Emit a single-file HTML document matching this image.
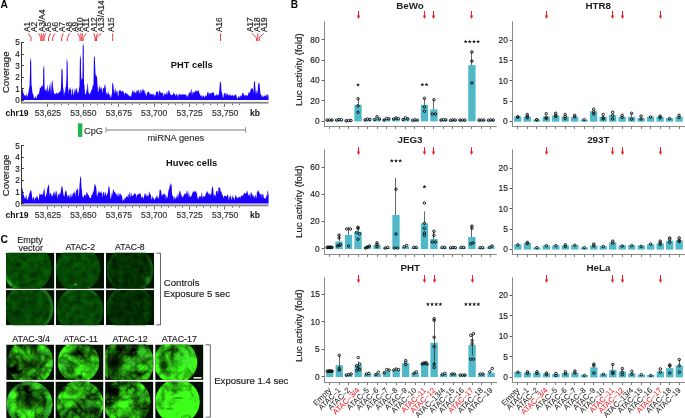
<!DOCTYPE html>
<html><head><meta charset="utf-8"><style>
html,body{margin:0;padding:0;background:#fff;width:685px;height:418px;overflow:hidden}
svg{display:block;will-change:transform}
</style></head><body>
<svg width="685" height="418" viewBox="0 0 685 418">
<defs><filter id="blur1" x="-20%" y="-20%" width="140%" height="140%"><feGaussianBlur stdDeviation="0.9"/></filter>
<radialGradient id="gd"><stop offset="0" stop-color="#000" stop-opacity="1"/><stop offset="0.55" stop-color="#000" stop-opacity="0.75"/><stop offset="1" stop-color="#000" stop-opacity="0"/></radialGradient>
<radialGradient id="gb"><stop offset="0" stop-color="#3ee03e" stop-opacity="1"/><stop offset="0.55" stop-color="#3ee03e" stop-opacity="0.75"/><stop offset="1" stop-color="#3ee03e" stop-opacity="0"/></radialGradient>
<clipPath id="ct0"><rect x="6" y="252.7" width="48.4" height="36"/></clipPath>
<clipPath id="cc0"><circle cx="27" cy="268" r="24.5"/></clipPath>
<filter id="f0" filterUnits="userSpaceOnUse" x="6" y="252.7" width="48.4" height="36" color-interpolation-filters="sRGB"><feTurbulence type="fractalNoise" baseFrequency="0.16" numOctaves="3" seed="1"/><feColorMatrix type="matrix" values="0.02 0 0 0 0.01  0.28 0 0 0 0.16  0.01 0 0 0 0.01  0 0 0 0 1"/></filter>
<clipPath id="ct1"><rect x="55.8" y="252.7" width="48.3" height="36"/></clipPath>
<clipPath id="cc1"><circle cx="78" cy="269" r="22.5"/></clipPath>
<filter id="f1" filterUnits="userSpaceOnUse" x="55.8" y="252.7" width="48.3" height="36" color-interpolation-filters="sRGB"><feTurbulence type="fractalNoise" baseFrequency="0.16" numOctaves="3" seed="2"/><feColorMatrix type="matrix" values="0.02 0 0 0 0.01  0.28 0 0 0 0.14  0.01 0 0 0 0.01  0 0 0 0 1"/></filter>
<clipPath id="ct2"><rect x="106" y="252.7" width="48.2" height="36"/></clipPath>
<clipPath id="cc2"><circle cx="130" cy="270" r="23.5"/></clipPath>
<filter id="f2" filterUnits="userSpaceOnUse" x="106" y="252.7" width="48.2" height="36" color-interpolation-filters="sRGB"><feTurbulence type="fractalNoise" baseFrequency="0.16" numOctaves="3" seed="3"/><feColorMatrix type="matrix" values="0.02 0 0 0 0  0.28 0 0 0 0.05  0.01 0 0 0 0  0 0 0 0 1"/></filter>
<clipPath id="ct3"><rect x="6" y="290.1" width="48.4" height="35.2"/></clipPath>
<clipPath id="cc3"><circle cx="29" cy="308" r="24.5"/></clipPath>
<filter id="f3" filterUnits="userSpaceOnUse" x="6" y="290.1" width="48.4" height="35.2" color-interpolation-filters="sRGB"><feTurbulence type="fractalNoise" baseFrequency="0.16" numOctaves="3" seed="4"/><feColorMatrix type="matrix" values="0.02 0 0 0 0.01  0.28 0 0 0 0.13  0.01 0 0 0 0.01  0 0 0 0 1"/></filter>
<clipPath id="ct4"><rect x="55.8" y="290.1" width="48.3" height="35.2"/></clipPath>
<clipPath id="cc4"><circle cx="80" cy="310" r="23.5"/></clipPath>
<filter id="f4" filterUnits="userSpaceOnUse" x="55.8" y="290.1" width="48.3" height="35.2" color-interpolation-filters="sRGB"><feTurbulence type="fractalNoise" baseFrequency="0.16" numOctaves="3" seed="5"/><feColorMatrix type="matrix" values="0.02 0 0 0 0.01  0.28 0 0 0 0.14  0.01 0 0 0 0.01  0 0 0 0 1"/></filter>
<clipPath id="ct5"><rect x="106" y="290.1" width="48.2" height="35.2"/></clipPath>
<clipPath id="cc5"><circle cx="130" cy="308" r="23.5"/></clipPath>
<filter id="f5" filterUnits="userSpaceOnUse" x="106" y="290.1" width="48.2" height="35.2" color-interpolation-filters="sRGB"><feTurbulence type="fractalNoise" baseFrequency="0.16" numOctaves="3" seed="6"/><feColorMatrix type="matrix" values="0.02 0 0 0 0  0.28 0 0 0 0.04  0.01 0 0 0 0  0 0 0 0 1"/></filter>
<clipPath id="ct6"><rect x="6.2" y="344.5" width="47.8" height="35.4"/></clipPath>
<clipPath id="cc6"><circle cx="30.3" cy="362" r="23"/></clipPath>
<filter id="f6" filterUnits="userSpaceOnUse" x="6.2" y="344.5" width="47.8" height="35.4" color-interpolation-filters="sRGB"><feTurbulence type="fractalNoise" baseFrequency="0.05" numOctaves="2" seed="47" result="a"/><feTurbulence type="turbulence" baseFrequency="0.11" numOctaves="3" seed="7" result="b"/><feColorMatrix in="a" type="matrix" values="0 0 0 0 0  1 0 0 0 0  0 0 0 0 0  0 0 0 0 1" result="a2"/><feColorMatrix in="b" type="matrix" values="0 0 0 0 0  1 0 0 0 0  0 0 0 0 0  0 0 0 0 1" result="b2"/><feComposite in="a2" in2="b2" operator="arithmetic" k1="0" k2="1.5" k3="1" k4="-0.57"/><feColorMatrix type="matrix" values="0 0.24 0 0 0  0 1 0 0 0  0 0.1 0 0 0  0 0 0 0 1"/></filter>
<clipPath id="ct7"><rect x="55.4" y="344.5" width="48.1" height="35.4"/></clipPath>
<clipPath id="cc7"><circle cx="78.5" cy="362" r="20.8"/></clipPath>
<filter id="f7" filterUnits="userSpaceOnUse" x="55.4" y="344.5" width="48.1" height="35.4" color-interpolation-filters="sRGB"><feTurbulence type="fractalNoise" baseFrequency="0.05" numOctaves="2" seed="48" result="a"/><feTurbulence type="turbulence" baseFrequency="0.11" numOctaves="3" seed="8" result="b"/><feColorMatrix in="a" type="matrix" values="0 0 0 0 0  1 0 0 0 0  0 0 0 0 0  0 0 0 0 1" result="a2"/><feColorMatrix in="b" type="matrix" values="0 0 0 0 0  1 0 0 0 0  0 0 0 0 0  0 0 0 0 1" result="b2"/><feComposite in="a2" in2="b2" operator="arithmetic" k1="0" k2="1.5" k3="1" k4="-0.45"/><feColorMatrix type="matrix" values="0 0.24 0 0 0  0 1 0 0 0  0 0.1 0 0 0  0 0 0 0 1"/></filter>
<clipPath id="ct8"><rect x="105.1" y="344.5" width="48.3" height="35.4"/></clipPath>
<clipPath id="cc8"><circle cx="128" cy="363" r="26"/></clipPath>
<filter id="f8" filterUnits="userSpaceOnUse" x="105.1" y="344.5" width="48.3" height="35.4" color-interpolation-filters="sRGB"><feTurbulence type="fractalNoise" baseFrequency="0.05" numOctaves="2" seed="49" result="a"/><feTurbulence type="turbulence" baseFrequency="0.11" numOctaves="3" seed="9" result="b"/><feColorMatrix in="a" type="matrix" values="0 0 0 0 0  1 0 0 0 0  0 0 0 0 0  0 0 0 0 1" result="a2"/><feColorMatrix in="b" type="matrix" values="0 0 0 0 0  1 0 0 0 0  0 0 0 0 0  0 0 0 0 1" result="b2"/><feComposite in="a2" in2="b2" operator="arithmetic" k1="0" k2="1.5" k3="1" k4="-0.62"/><feColorMatrix type="matrix" values="0 0.24 0 0 0  0 1 0 0 0  0 0.1 0 0 0  0 0 0 0 1"/></filter>
<clipPath id="ct9"><rect x="155.2" y="344.5" width="48.2" height="35.4"/></clipPath>
<clipPath id="cc9"><circle cx="175.5" cy="362" r="21.8"/></clipPath>
<filter id="f9" filterUnits="userSpaceOnUse" x="155.2" y="344.5" width="48.2" height="35.4" color-interpolation-filters="sRGB"><feTurbulence type="fractalNoise" baseFrequency="0.05" numOctaves="2" seed="50" result="a"/><feTurbulence type="turbulence" baseFrequency="0.11" numOctaves="3" seed="10" result="b"/><feColorMatrix in="a" type="matrix" values="0 0 0 0 0  1 0 0 0 0  0 0 0 0 0  0 0 0 0 1" result="a2"/><feColorMatrix in="b" type="matrix" values="0 0 0 0 0  1 0 0 0 0  0 0 0 0 0  0 0 0 0 1" result="b2"/><feComposite in="a2" in2="b2" operator="arithmetic" k1="0" k2="1.5" k3="1" k4="-0.2"/><feColorMatrix type="matrix" values="0 0.24 0 0 0  0 1 0 0 0  0 0.1 0 0 0  0 0 0 0 1"/></filter>
<clipPath id="ct10"><rect x="6.2" y="381.6" width="47.8" height="36.4"/></clipPath>
<clipPath id="cc10"><circle cx="29.5" cy="404" r="23"/></clipPath>
<filter id="f10" filterUnits="userSpaceOnUse" x="6.2" y="381.6" width="47.8" height="36.4" color-interpolation-filters="sRGB"><feTurbulence type="fractalNoise" baseFrequency="0.05" numOctaves="2" seed="51" result="a"/><feTurbulence type="turbulence" baseFrequency="0.11" numOctaves="3" seed="11" result="b"/><feColorMatrix in="a" type="matrix" values="0 0 0 0 0  1 0 0 0 0  0 0 0 0 0  0 0 0 0 1" result="a2"/><feColorMatrix in="b" type="matrix" values="0 0 0 0 0  1 0 0 0 0  0 0 0 0 0  0 0 0 0 1" result="b2"/><feComposite in="a2" in2="b2" operator="arithmetic" k1="0" k2="1.5" k3="1" k4="-0.61"/><feColorMatrix type="matrix" values="0 0.24 0 0 0  0 1 0 0 0  0 0.1 0 0 0  0 0 0 0 1"/></filter>
<clipPath id="ct11"><rect x="55.4" y="381.6" width="48.1" height="36.4"/></clipPath>
<clipPath id="cc11"><circle cx="80" cy="404" r="23.5"/></clipPath>
<filter id="f11" filterUnits="userSpaceOnUse" x="55.4" y="381.6" width="48.1" height="36.4" color-interpolation-filters="sRGB"><feTurbulence type="fractalNoise" baseFrequency="0.05" numOctaves="2" seed="52" result="a"/><feTurbulence type="turbulence" baseFrequency="0.11" numOctaves="3" seed="12" result="b"/><feColorMatrix in="a" type="matrix" values="0 0 0 0 0  1 0 0 0 0  0 0 0 0 0  0 0 0 0 1" result="a2"/><feColorMatrix in="b" type="matrix" values="0 0 0 0 0  1 0 0 0 0  0 0 0 0 0  0 0 0 0 1" result="b2"/><feComposite in="a2" in2="b2" operator="arithmetic" k1="0" k2="1.5" k3="1" k4="-0.47"/><feColorMatrix type="matrix" values="0 0.24 0 0 0  0 1 0 0 0  0 0.1 0 0 0  0 0 0 0 1"/></filter>
<clipPath id="ct12"><rect x="105.1" y="381.6" width="48.3" height="36.4"/></clipPath>
<clipPath id="cc12"><circle cx="127" cy="402" r="23.5"/></clipPath>
<filter id="f12" filterUnits="userSpaceOnUse" x="105.1" y="381.6" width="48.3" height="36.4" color-interpolation-filters="sRGB"><feTurbulence type="fractalNoise" baseFrequency="0.05" numOctaves="2" seed="53" result="a"/><feTurbulence type="turbulence" baseFrequency="0.11" numOctaves="3" seed="13" result="b"/><feColorMatrix in="a" type="matrix" values="0 0 0 0 0  1 0 0 0 0  0 0 0 0 0  0 0 0 0 1" result="a2"/><feColorMatrix in="b" type="matrix" values="0 0 0 0 0  1 0 0 0 0  0 0 0 0 0  0 0 0 0 1" result="b2"/><feComposite in="a2" in2="b2" operator="arithmetic" k1="0" k2="1.5" k3="1" k4="-0.49"/><feColorMatrix type="matrix" values="0 0.24 0 0 0  0 1 0 0 0  0 0.1 0 0 0  0 0 0 0 1"/></filter>
<clipPath id="ct13"><rect x="155.2" y="381.6" width="48.2" height="36.4"/></clipPath>
<clipPath id="cc13"><circle cx="177.5" cy="401.5" r="22.3"/></clipPath>
<filter id="f13" filterUnits="userSpaceOnUse" x="155.2" y="381.6" width="48.2" height="36.4" color-interpolation-filters="sRGB"><feTurbulence type="fractalNoise" baseFrequency="0.05" numOctaves="2" seed="54" result="a"/><feTurbulence type="turbulence" baseFrequency="0.11" numOctaves="3" seed="14" result="b"/><feColorMatrix in="a" type="matrix" values="0 0 0 0 0  1 0 0 0 0  0 0 0 0 0  0 0 0 0 1" result="a2"/><feColorMatrix in="b" type="matrix" values="0 0 0 0 0  1 0 0 0 0  0 0 0 0 0  0 0 0 0 1" result="b2"/><feComposite in="a2" in2="b2" operator="arithmetic" k1="0" k2="1.5" k3="1" k4="-0.02"/><feColorMatrix type="matrix" values="0 0.24 0 0 0  0 1 0 0 0  0 0.1 0 0 0  0 0 0 0 1"/></filter></defs>
<rect width="685" height="418" fill="#fff"/>
<text x="0.6" y="7.7" font-size="10.2" fill="#000" stroke="#000" stroke-width="0" font-family="Liberation Sans, sans-serif" font-weight="bold">A</text>
<path d="M22,100.05 L22,88.39 L22.5,88.22 L23,91.19 L23.5,93.81 L24,94.35 L24.5,95.53 L25,95.14 L25.5,96.6 L26,94.61 L26.5,93.7 L27,96.96 L27.5,96.17 L28,94.19 L28.5,92.37 L29,88.95 L29.5,86.61 L30,72.62 L30.1,60.52 L30.2,57.67 L30.5,57.79 L30.6,60.13 L31,61 L31.1,59.07 L31.5,84.44 L32,88.06 L32.5,93.58 L33,93.43 L33.5,95.21 L34,99.2 L34.5,97.26 L35,98.38 L35.5,95.61 L36,97.17 L36.5,98.55 L37,96.43 L37.5,94.3 L38,94.7 L38.5,94.3 L39,93.26 L39.5,90.71 L40,86.65 L40.5,88.1 L41,87.81 L41.5,85.23 L42,87.06 L42.5,86.26 L43,84.03 L43.3,67.97 L43.4,68.6 L43.5,67.7 L43.8,66.77 L44,64.35 L44.2,66.52 L44.3,68.45 L44.5,85.07 L45,91.21 L45.5,89.53 L46,90.13 L46.5,87.51 L47,93.16 L47.5,85.45 L47.7,84.47 L48,86.7 L48.3,90.29 L48.5,92.07 L49,90.03 L49.5,86.32 L50,83.91 L50.3,82.24 L50.5,85.77 L51,94.59 L51.5,85.64 L51.9,81.39 L52,81.97 L52.3,79.64 L52.5,80.7 L52.7,82.87 L53,87.16 L53.5,90.05 L54,93.69 L54.5,93.34 L55,94.36 L55.5,94.45 L56,92.24 L56.5,93.06 L57,94.09 L57.5,94.1 L58,91.79 L58.5,93.52 L59,92.72 L59.5,92.2 L60,91.12 L60.5,91.33 L61,87.4 L61.4,72.43 L61.5,67.23 L61.6,68.23 L62,69.15 L62.4,69.97 L62.5,68.3 L63,86.95 L63.5,89.54 L64,96.32 L64.5,90.45 L65,94.31 L65.5,86.54 L66,87.59 L66.5,75.01 L66.6,62.84 L66.7,59.73 L67,58.78 L67.1,60.02 L67.5,62.84 L67.6,59.89 L68,86.24 L68.5,94.39 L69,87.24 L69.5,89.17 L70,89.68 L70.5,89.61 L71,86.8 L71.5,95.39 L72,94.04 L72.5,88.85 L73,88.83 L73.5,95.34 L74,94.59 L74.5,87.31 L75,93.94 L75.5,88.33 L76,90.66 L76.5,88.56 L77,87.69 L77.5,93.99 L78,91.62 L78.5,93.24 L79,88.45 L79.5,85.93 L79.9,57.5 L80,58.25 L80.4,54.94 L80.5,54.98 L80.8,59.53 L80.9,57.45 L81,71.41 L81.5,80.38 L82,78.84 L82.5,78.56 L82.7,44.97 L82.8,45 L83,46.57 L83.2,42.05 L83.5,45.16 L83.6,46.78 L83.7,44.23 L84,83.77 L84.5,85.77 L85,94.19 L85.5,94.09 L86,94.05 L86.5,88.46 L87,92.87 L87.4,83.56 L87.5,82.79 L88,85.71 L88.5,93.05 L89,92.97 L89.5,94.27 L90,94.32 L90.5,92.01 L91,91.91 L91.5,89.22 L92,89.82 L92.5,85.99 L93,85.67 L93.5,84.26 L93.9,57.55 L94,55.46 L94.4,57.42 L94.5,56.78 L94.8,56.81 L95,62.36 L95.5,73.76 L96,76.36 L96.5,76.9 L96.8,74.3 L97,76.32 L97.5,84.71 L98,91.79 L98.5,91.46 L99,86.01 L99.1,84.17 L99.5,86.51 L100,89.82 L100.5,88.31 L101,86.72 L101.5,87.46 L102,90.24 L102.5,93.41 L103,88 L103.5,87.89 L104,88.67 L104.5,85.69 L105,83.99 L105.5,85.97 L106,91.22 L106.5,92.92 L107,94.75 L107.5,92.01 L108,95.15 L108.4,88.43 L108.5,93.32 L109,93.16 L109.5,95.73 L110,94.56 L110.5,96.9 L111,98.3 L111.5,95.12 L112,92.92 L112.2,84.09 L112.5,82.34 L112.6,82.22 L113,83.83 L113.5,85.61 L114,93.58 L114.5,91.39 L115,88.98 L115.4,88.77 L115.5,88.33 L116,94.62 L116.5,90.4 L117,91.49 L117.5,90.71 L118,96.67 L118.5,95.16 L119,89.44 L119.5,90.39 L120,91.19 L120.5,90.69 L121,89.18 L121.5,92.07 L122,91.87 L122.5,91.26 L123,90.62 L123.5,92 L124,92.99 L124.5,95.22 L125,92.17 L125.5,93.5 L126,92.33 L126.5,94.02 L127,93.43 L127.5,94.03 L128,94.95 L128.5,94.51 L128.7,95.61 L129,96.34 L129.5,94.91 L130,96.64 L130.5,96.04 L131,96.9 L131.5,93.97 L132,92.58 L132.5,90.84 L133,90.07 L133.5,93.87 L134,89.71 L134.5,91.91 L135,92.43 L135.5,91.92 L136,94.43 L136.5,89.71 L137,91.48 L137.5,91.36 L138,89.66 L138.5,89.21 L139,93.42 L139.5,93 L140,89.4 L140.5,90.14 L141,93.93 L141.5,89.16 L142,91.63 L142.5,90.02 L143,88.02 L143.5,90.15 L144,90.75 L144.5,90 L145,94.77 L145.5,91 L146,96.17 L146.5,95.53 L147,92.87 L147.5,92.64 L148,92.08 L148.5,91.75 L149,91.44 L149.5,92.87 L150,95.39 L150.5,93.5 L151,94.43 L151.5,93.76 L152,94.3 L152.5,93.96 L153,95.12 L153.5,92.76 L154,97.54 L154.5,93.72 L155,95.59 L155.5,95.49 L156,92.81 L156.5,91.21 L157,91.51 L157.5,92.17 L158,90.95 L158.5,96.38 L159,90.27 L159.5,90.8 L160,92.35 L160.5,91.86 L161,92.88 L161.5,93.57 L162,92.13 L162.5,92.71 L163,93.43 L163.5,97.19 L164,93.62 L164.5,93.17 L165,95.55 L165.5,93.87 L166,93.87 L166.5,91.51 L167,95.85 L167.5,91.01 L168,94.82 L168.5,90 L169,90.29 L169.5,91.4 L170,92.89 L170.5,94.94 L171,93.9 L171.5,95.49 L172,94.9 L172.5,94.53 L173,94.78 L173.5,92.87 L174,92.56 L174.5,94.74 L175,93.45 L175.5,96.09 L176,94.92 L176.5,93.22 L177,95.85 L177.5,94.13 L178,98.03 L178.5,93.62 L179,95.07 L179.5,94.63 L180,93.07 L180.5,94.82 L181,94.89 L181.5,95.11 L182,93.4 L182.5,94.85 L183,94.55 L183.5,94.34 L184,94.86 L184.5,94.5 L185,94.34 L185.5,94.23 L186,95.64 L186.5,94.63 L187,97.46 L187.5,94.2 L188,97.17 L188.5,94.3 L189,93.2 L189.5,93 L190,91.82 L190.5,93.21 L191,89.57 L191.5,88.81 L192,95.9 L192.5,91.88 L193,92.3 L193.5,91.87 L194,93.41 L194.5,92.31 L195,91.11 L195.5,90.07 L196,92.23 L196.5,90.18 L197,90.93 L197.5,90.82 L198,91.7 L198.5,89.11 L199,91.94 L199.5,93.91 L200,93.45 L200.5,95.95 L201,95.86 L201.5,94.86 L202,98.19 L202.5,96.07 L203,95.26 L203.5,95.64 L204,96.39 L204.5,96.88 L205,97.46 L205.5,94.72 L206,96.13 L206.5,96.31 L207,93.93 L207.5,92.06 L208,91.91 L208.5,92.51 L209,95.45 L209.5,92.79 L210,93.18 L210.5,93.66 L211,92.83 L211.5,93.68 L212,92.72 L212.5,92.15 L213,92.27 L213.5,92.47 L214,93.23 L214.5,96.31 L215,95.08 L215.5,95.25 L216,96.4 L216.5,94.05 L217,94.32 L217.5,95.16 L218,95.56 L218.5,94.74 L219,93.5 L219.5,88.08 L220,81.42 L220.1,82.03 L220.5,81.35 L220.9,83.98 L221,82.31 L221.5,91.72 L222,92.38 L222.5,94.97 L223,97.79 L223.5,97.02 L224,92.84 L224.5,93.64 L225,92.66 L225.5,93.4 L226,96.26 L226.5,93.77 L227,93.09 L227.5,93.83 L228,95.33 L228.5,94.87 L229,96.06 L229.5,94.81 L230,93.77 L230.5,95.93 L231,94.58 L231.5,95.79 L232,96.14 L232.5,94.36 L233,95.65 L233.5,96.4 L234,94.79 L234.5,95.93 L235,94.34 L235.5,94.71 L236,94.42 L236.5,96.24 L237,97.92 L237.5,99.05 L238,97.79 L238.5,96.35 L239,96.07 L239.5,97.52 L240,96.73 L240.5,96.28 L241,94.17 L241.5,96.76 L242,95.21 L242.5,92.36 L243,93.04 L243.5,93.42 L244,94.77 L244.5,95.96 L245,94.85 L245.5,95.2 L246,96.75 L246.5,94.78 L247,94.68 L247.5,96.09 L248,95.55 L248.5,91.84 L249,93.46 L249.5,92.76 L250,91.65 L250.5,90.67 L251,88.24 L251.5,88.93 L252,88.05 L252.5,88.58 L253,89.09 L253.5,93.42 L254,81.58 L254.1,81.42 L254.5,81.01 L254.9,81.89 L255,83.61 L255.5,89.72 L256,94.71 L256.5,91.16 L257,89.81 L257.5,94.48 L258,85.66 L258.5,82.35 L258.6,83.04 L259,83.39 L259.4,82.55 L259.5,84.25 L260,89.44 L260.5,94.15 L261,94.22 L261.5,97.46 L262,94.51 L262.5,95.68 L263,97.08 L263.5,96.63 L264,96.2 L264.5,94.89 L265,96.27 L265.5,96.14 L266,94.18 L266.5,94.54 L267,97.54 L267.5,93.66 L268,94.85 L268.5,95.54 L268.6,98.32 L268.6,100.05 Z" fill="#1a00ff"/>
<line x1="21.5" y1="42" x2="21.5" y2="102.8" stroke="#333" stroke-width="1"/>
<line x1="21.5" y1="100.5" x2="24" y2="100.5" stroke="#333" stroke-width="0.9"/>
<text x="19.9" y="103.4" font-size="8.2" fill="#222" stroke="#222" stroke-width="0.16" font-family="Liberation Sans, sans-serif" text-anchor="end">0</text>
<line x1="21.5" y1="88.5" x2="24" y2="88.5" stroke="#333" stroke-width="0.9"/>
<text x="19.9" y="91.8" font-size="8.2" fill="#222" stroke="#222" stroke-width="0.16" font-family="Liberation Sans, sans-serif" text-anchor="end">1</text>
<line x1="21.5" y1="77.5" x2="24" y2="77.5" stroke="#333" stroke-width="0.9"/>
<text x="19.9" y="80.2" font-size="8.2" fill="#222" stroke="#222" stroke-width="0.16" font-family="Liberation Sans, sans-serif" text-anchor="end">2</text>
<line x1="21.5" y1="65.5" x2="24" y2="65.5" stroke="#333" stroke-width="0.9"/>
<text x="19.9" y="68.6" font-size="8.2" fill="#222" stroke="#222" stroke-width="0.16" font-family="Liberation Sans, sans-serif" text-anchor="end">3</text>
<line x1="21.5" y1="54.5" x2="24" y2="54.5" stroke="#333" stroke-width="0.9"/>
<text x="19.9" y="57" font-size="8.2" fill="#222" stroke="#222" stroke-width="0.16" font-family="Liberation Sans, sans-serif" text-anchor="end">4</text>
<line x1="21.5" y1="42.5" x2="24" y2="42.5" stroke="#333" stroke-width="0.9"/>
<text x="19.9" y="45.4" font-size="8.2" fill="#222" stroke="#222" stroke-width="0.16" font-family="Liberation Sans, sans-serif" text-anchor="end">5</text>
<text transform="translate(9.3,72.3) rotate(-90)" font-size="9.6" fill="#222" stroke="#222" stroke-width="0.16" font-family="Liberation Sans, sans-serif" text-anchor="middle">Coverage</text>
<rect x="21" y="101.8" width="247.6" height="1.8" fill="#858585"/>
<line x1="47.5" y1="103.6" x2="47.5" y2="106.8" stroke="#555" stroke-width="0.85"/>
<line x1="54.5" y1="103.6" x2="54.5" y2="105.1" stroke="#555" stroke-width="0.85"/>
<line x1="61.5" y1="103.6" x2="61.5" y2="105.1" stroke="#555" stroke-width="0.85"/>
<line x1="68.5" y1="103.6" x2="68.5" y2="105.1" stroke="#555" stroke-width="0.85"/>
<line x1="76.5" y1="103.6" x2="76.5" y2="105.1" stroke="#555" stroke-width="0.85"/>
<line x1="83.5" y1="103.6" x2="83.5" y2="106.8" stroke="#555" stroke-width="0.85"/>
<line x1="90.5" y1="103.6" x2="90.5" y2="105.1" stroke="#555" stroke-width="0.85"/>
<line x1="97.5" y1="103.6" x2="97.5" y2="105.1" stroke="#555" stroke-width="0.85"/>
<line x1="104.5" y1="103.6" x2="104.5" y2="105.1" stroke="#555" stroke-width="0.85"/>
<line x1="111.5" y1="103.6" x2="111.5" y2="105.1" stroke="#555" stroke-width="0.85"/>
<line x1="118.5" y1="103.6" x2="118.5" y2="106.8" stroke="#555" stroke-width="0.85"/>
<line x1="125.5" y1="103.6" x2="125.5" y2="105.1" stroke="#555" stroke-width="0.85"/>
<line x1="132.5" y1="103.6" x2="132.5" y2="105.1" stroke="#555" stroke-width="0.85"/>
<line x1="139.5" y1="103.6" x2="139.5" y2="105.1" stroke="#555" stroke-width="0.85"/>
<line x1="146.5" y1="103.6" x2="146.5" y2="105.1" stroke="#555" stroke-width="0.85"/>
<line x1="154.5" y1="103.6" x2="154.5" y2="106.8" stroke="#555" stroke-width="0.85"/>
<line x1="161.5" y1="103.6" x2="161.5" y2="105.1" stroke="#555" stroke-width="0.85"/>
<line x1="168.5" y1="103.6" x2="168.5" y2="105.1" stroke="#555" stroke-width="0.85"/>
<line x1="175.5" y1="103.6" x2="175.5" y2="105.1" stroke="#555" stroke-width="0.85"/>
<line x1="182.5" y1="103.6" x2="182.5" y2="105.1" stroke="#555" stroke-width="0.85"/>
<line x1="189.5" y1="103.6" x2="189.5" y2="106.8" stroke="#555" stroke-width="0.85"/>
<line x1="196.5" y1="103.6" x2="196.5" y2="105.1" stroke="#555" stroke-width="0.85"/>
<line x1="203.5" y1="103.6" x2="203.5" y2="105.1" stroke="#555" stroke-width="0.85"/>
<line x1="210.5" y1="103.6" x2="210.5" y2="105.1" stroke="#555" stroke-width="0.85"/>
<line x1="217.5" y1="103.6" x2="217.5" y2="105.1" stroke="#555" stroke-width="0.85"/>
<line x1="224.5" y1="103.6" x2="224.5" y2="106.8" stroke="#555" stroke-width="0.85"/>
<line x1="232.5" y1="103.6" x2="232.5" y2="105.1" stroke="#555" stroke-width="0.85"/>
<line x1="239.5" y1="103.6" x2="239.5" y2="105.1" stroke="#555" stroke-width="0.85"/>
<text transform="translate(47.9,115.6) scale(1,1.1)" font-size="8.6" fill="#333" stroke="#333" stroke-width="0.16" font-family="Liberation Sans, sans-serif" text-anchor="middle">53,625</text>
<text transform="translate(83.35,115.6) scale(1,1.1)" font-size="8.6" fill="#333" stroke="#333" stroke-width="0.16" font-family="Liberation Sans, sans-serif" text-anchor="middle">53,650</text>
<text transform="translate(118.8,115.6) scale(1,1.1)" font-size="8.6" fill="#333" stroke="#333" stroke-width="0.16" font-family="Liberation Sans, sans-serif" text-anchor="middle">53,675</text>
<text transform="translate(154.25,115.6) scale(1,1.1)" font-size="8.6" fill="#333" stroke="#333" stroke-width="0.16" font-family="Liberation Sans, sans-serif" text-anchor="middle">53,700</text>
<text transform="translate(189.7,115.6) scale(1,1.1)" font-size="8.6" fill="#333" stroke="#333" stroke-width="0.16" font-family="Liberation Sans, sans-serif" text-anchor="middle">53,725</text>
<text transform="translate(225.15,115.6) scale(1,1.1)" font-size="8.6" fill="#333" stroke="#333" stroke-width="0.16" font-family="Liberation Sans, sans-serif" text-anchor="middle">53,750</text>
<text x="5.6" y="115.6" font-size="8.6" fill="#111" stroke="#111" stroke-width="0" font-family="Liberation Sans, sans-serif" font-weight="bold">chr19</text>
<text x="250" y="115.6" font-size="8.6" fill="#111" stroke="#111" stroke-width="0" font-family="Liberation Sans, sans-serif" font-weight="bold">kb</text>
<text x="170.8" y="67.5" font-size="9.3" fill="#111" stroke="#111" stroke-width="0" font-family="Liberation Sans, sans-serif" font-weight="bold">PHT cells</text>
<path d="M22,203.6 L22,188.47 L22.5,188.41 L23,191.75 L23.5,194.71 L24,195.47 L24.5,197.75 L25,197.96 L25.5,198.94 L26,194.52 L26.5,195.64 L27,200.46 L27.5,199.61 L28,197.6 L28.5,197.19 L29,194.98 L29.5,193.21 L30,191.72 L30.5,190.77 L31,189.94 L31.5,191.6 L32,195.91 L32.5,200.37 L33,196.71 L33.5,197.31 L34,197.93 L34.5,201.26 L35,198.23 L35.5,197.15 L36,198.4 L36.5,195.68 L37,197.77 L37.5,195.68 L38,198.28 L38.5,200.48 L39,197.9 L39.5,193.6 L40,193.87 L40.5,194.44 L41,195.05 L41.5,194.38 L42,192.8 L42.5,195.49 L43,194.61 L43.5,190.93 L44,190.05 L44.4,188.1 L44.5,186.59 L45,197.48 L45.5,196.15 L46,195.17 L46.5,193.94 L47,190.44 L47.5,187.8 L48,186.27 L48.4,183.44 L48.5,185.77 L48.8,184.37 L49,187.07 L49.2,187.45 L49.5,196.68 L50,192.52 L50.5,193.02 L51,194.39 L51.5,194.46 L52,196.5 L52.5,196.32 L53,194.27 L53.5,193.24 L54,191.31 L54.5,192.68 L55,196.12 L55.5,189.93 L56,195.9 L56.3,191.68 L56.5,190.44 L57,192.15 L57.5,198.93 L58,195.34 L58.5,193.75 L59,195.81 L59.5,193.62 L60,193.32 L60.5,193.48 L61,189.89 L61.5,186.24 L61.6,185.92 L62,187.07 L62.4,185.57 L62.5,187.3 L63,191.28 L63.5,194.78 L64,196.36 L64.5,196.32 L65,192.16 L65.5,191.17 L66,189.91 L66.5,192.04 L67,194.81 L67.5,196.46 L68,196.64 L68.5,195.34 L69,194.61 L69.5,198.81 L70,193.2 L70.5,197.92 L71,192.14 L71.3,194.79 L71.5,195.89 L72,197.47 L72.5,194.66 L73,193.09 L73.5,192.72 L74,194.23 L74.5,192.03 L75,190.99 L75.5,197.29 L76,190.62 L76.5,190.78 L77,189 L77.5,189.69 L78,187.36 L78.5,197.1 L79,194.66 L79.5,185.63 L79.7,183.5 L80,179.29 L80.1,177.4 L80.5,175.43 L80.9,178.62 L81,176.92 L81.2,181.87 L81.5,187.25 L82,191.32 L82.5,197.95 L83,195.36 L83.5,197.91 L84,195.75 L84.5,194.73 L85,194.78 L85.5,194.83 L86,196.93 L86.5,191.33 L87,192.92 L87.5,192.65 L88,195.11 L88.5,195.05 L89,196.06 L89.5,197.61 L90,198.01 L90.5,197.63 L91,198.02 L91.5,194.77 L92,194.83 L92.5,194.29 L93,191.38 L93.5,191.98 L94,188.3 L94.5,185.37 L94.6,184.13 L95,183.81 L95.4,185.75 L95.5,186.55 L95.7,185.35 L96,185.71 L96.5,190.2 L97,197.27 L97.5,194.58 L98,193.41 L98.5,191.79 L99,190.76 L99.5,192.97 L100,192.27 L100.5,193.28 L101,190.39 L101.5,192.4 L102,193.67 L102.5,197.78 L103,191.9 L103.5,192.71 L104,191.61 L104.5,196.67 L105,192.67 L105.5,192.03 L106,194.61 L106.5,195.99 L107,194.87 L107.5,193.49 L108,191.57 L108.5,185.62 L108.6,185.97 L109,187.6 L109.4,186.28 L109.5,187.5 L110,193.54 L110.5,199.17 L111,198.32 L111.5,194.96 L112,191.66 L112.5,195.68 L113,189.27 L113.5,189.51 L114,191.21 L114.5,192.12 L115,192.75 L115.5,192.58 L116,194.39 L116.5,193.82 L117,196.13 L117.5,192.79 L118,197.75 L118.5,191.42 L119,196.98 L119.5,193.45 L120,194.38 L120.5,192.83 L121,196.85 L121.5,194.51 L122,195.1 L122.5,200.24 L123,201.08 L123.5,198.28 L124,201.12 L124.5,199.24 L125,196.51 L125.5,198.64 L126,197.55 L126.5,196.17 L127,196.25 L127.5,195.44 L128,198.55 L128.5,193.95 L129,194.52 L129.5,191.14 L130,197.32 L130.5,196.79 L131,191.45 L131.5,193.8 L132,196.06 L132.5,196.37 L133,194.76 L133.5,195.62 L134,193.42 L134.5,193.42 L135,193.48 L135.5,194.35 L136,194.36 L136.5,197.88 L137,194.49 L137.5,195.16 L138,193.14 L138.5,194.72 L139,194.05 L139.5,193.48 L140,193.44 L140.5,193.13 L141,195.45 L141.5,198.38 L142,196.53 L142.5,196.93 L143,197.02 L143.5,199.39 L144,195.89 L144.5,194.76 L145,193.28 L145.5,192.9 L146,197.41 L146.5,194.25 L147,196.39 L147.5,195.5 L148,194.82 L148.5,197.35 L149,191.05 L149.5,192.91 L150,194.25 L150.5,194.08 L151,195.72 L151.5,199.3 L152,199.34 L152.5,196.27 L153,196.48 L153.5,199.35 L154,197.13 L154.5,200.26 L155,199.84 L155.5,197.56 L156,197.86 L156.5,196.45 L157,194.95 L157.5,198.87 L158,194.76 L158.5,199.36 L159,197.78 L159.5,190.9 L160,189.04 L160.5,190.09 L160.7,190.33 L161,190.97 L161.5,193.96 L162,196.76 L162.5,194.3 L163,195.01 L163.5,193.79 L164,193.86 L164.5,193.8 L165,195.81 L165.5,193.73 L166,199.88 L166.5,194.98 L167,197.84 L167.5,197.76 L168,193.67 L168.5,190.54 L169,189.19 L169.5,187.43 L170,184 L170.5,186.23 L170.6,183.55 L171,183.33 L171.4,184.88 L171.5,183.7 L171.7,187.82 L172,193.4 L172.5,195.84 L173,196.06 L173.5,197.18 L174,200.68 L174.5,196.47 L175,196.43 L175.5,199.26 L176,198.02 L176.5,197.25 L177,194.12 L177.5,198.33 L178,192.23 L178.5,197.86 L179,193.17 L179.5,191.37 L180,190.55 L180.5,192.13 L181,195.28 L181.5,194.68 L182,197.44 L182.5,197.01 L183,196.55 L183.5,196.53 L184,194.27 L184.5,193.57 L185,194.97 L185.5,192.64 L186,194.68 L186.5,192.28 L187,190.04 L187.5,195.25 L188,189.33 L188.5,197.7 L189,191.73 L189.5,195.57 L190,197.39 L190.5,196.24 L191,196.95 L191.5,195.25 L192,194.74 L192.5,192.21 L193,192.8 L193.5,191.55 L194,190.55 L194.5,191.44 L195,192.24 L195.5,191.41 L196,190.42 L196.5,192.95 L197,193.9 L197.5,199.38 L198,195.6 L198.5,199.91 L199,197.08 L199.5,196.26 L200,196.43 L200.5,195.99 L201,197.58 L201.5,194.11 L202,191.55 L202.5,199.05 L203,195.65 L203.5,196.62 L204,196.5 L204.5,196.76 L205,196.03 L205.5,195.06 L206,192.85 L206.5,193.32 L207,190.55 L207.5,192.06 L208,192.84 L208.5,194.48 L209,192.57 L209.5,194.07 L210,195.66 L210.5,194.08 L211,194.85 L211.5,191.5 L212,186.32 L212.1,188.03 L212.5,187.17 L212.9,185.67 L213,186.57 L213.3,190.76 L213.5,193.18 L214,196.84 L214.5,193.95 L215,194.98 L215.5,196.82 L216,191.86 L216.5,190.84 L217,191.55 L217.5,190.57 L218,194.82 L218.5,187.49 L219,186.88 L219.1,188.03 L219.5,187.21 L219.9,188.3 L220,187.13 L220.2,188.74 L220.5,191.15 L221,191.48 L221.5,191.63 L222,195.19 L222.5,194.34 L223,195.92 L223.5,198.17 L224,196.45 L224.5,195.77 L225,195.63 L225.5,196.05 L226,196.07 L226.5,196.74 L227,195.63 L227.5,194.45 L228,194.65 L228.5,198.13 L229,200.2 L229.5,195.78 L230,197.63 L230.5,194.96 L231,196.35 L231.5,199.7 L232,198.88 L232.5,194.55 L233,197.13 L233.5,197.3 L234,198.71 L234.5,200.25 L235,196.63 L235.5,194.73 L236,195.42 L236.5,197.59 L237,197.27 L237.5,198.48 L238,197.98 L238.5,196.56 L239,197.94 L239.5,196.14 L240,197.82 L240.5,197.82 L241,195.02 L241.5,195.47 L242,196.61 L242.5,195.13 L243,196.2 L243.5,193.93 L244,193.78 L244.5,192.82 L245,192.93 L245.5,193.69 L246,193.65 L246.5,192.43 L247,190.57 L247.5,191.46 L248,194.38 L248.5,194.76 L249,195.75 L249.5,193.2 L250,197.79 L250.5,194.54 L251,191.53 L251.5,193.11 L252,193.95 L252.5,194.66 L253,197.42 L253.5,195.18 L254,195.63 L254.5,198.64 L255,195.54 L255.5,194.54 L256,197.84 L256.5,197.59 L257,191.76 L257.5,191.75 L258,190.26 L258.5,190.67 L259,192.65 L259.5,192.58 L260,194.7 L260.5,194.13 L261,193.96 L261.5,193.94 L262,198.5 L262.5,193.5 L263,194.36 L263.5,194.99 L264,199.22 L264.5,198.06 L265,197.91 L265.5,198.99 L266,196.66 L266.5,194.39 L267,197.82 L267.5,190.56 L268,191.3 L268.5,194.73 L268.6,196.06 L268.6,203.6 Z" fill="#1a00ff"/>
<line x1="21.5" y1="145" x2="21.5" y2="205.5" stroke="#333" stroke-width="1"/>
<line x1="21.5" y1="203.5" x2="24" y2="203.5" stroke="#333" stroke-width="0.9"/>
<text x="19.9" y="206.6" font-size="8.2" fill="#222" stroke="#222" stroke-width="0.16" font-family="Liberation Sans, sans-serif" text-anchor="end">0</text>
<line x1="21.5" y1="192.5" x2="24" y2="192.5" stroke="#333" stroke-width="0.9"/>
<text x="19.9" y="195" font-size="8.2" fill="#222" stroke="#222" stroke-width="0.16" font-family="Liberation Sans, sans-serif" text-anchor="end">1</text>
<line x1="21.5" y1="180.5" x2="24" y2="180.5" stroke="#333" stroke-width="0.9"/>
<text x="19.9" y="183.4" font-size="8.2" fill="#222" stroke="#222" stroke-width="0.16" font-family="Liberation Sans, sans-serif" text-anchor="end">2</text>
<line x1="21.5" y1="168.5" x2="24" y2="168.5" stroke="#333" stroke-width="0.9"/>
<text x="19.9" y="171.8" font-size="8.2" fill="#222" stroke="#222" stroke-width="0.16" font-family="Liberation Sans, sans-serif" text-anchor="end">3</text>
<line x1="21.5" y1="157.5" x2="24" y2="157.5" stroke="#333" stroke-width="0.9"/>
<text x="19.9" y="160.2" font-size="8.2" fill="#222" stroke="#222" stroke-width="0.16" font-family="Liberation Sans, sans-serif" text-anchor="end">4</text>
<line x1="21.5" y1="145.5" x2="24" y2="145.5" stroke="#333" stroke-width="0.9"/>
<text x="19.9" y="148.6" font-size="8.2" fill="#222" stroke="#222" stroke-width="0.16" font-family="Liberation Sans, sans-serif" text-anchor="end">5</text>
<text transform="translate(9.3,175.5) rotate(-90)" font-size="9.6" fill="#222" stroke="#222" stroke-width="0.16" font-family="Liberation Sans, sans-serif" text-anchor="middle">Coverage</text>
<rect x="21" y="204.5" width="247.6" height="1.8" fill="#858585"/>
<line x1="47.5" y1="206.3" x2="47.5" y2="209.5" stroke="#555" stroke-width="0.85"/>
<line x1="54.5" y1="206.3" x2="54.5" y2="207.8" stroke="#555" stroke-width="0.85"/>
<line x1="61.5" y1="206.3" x2="61.5" y2="207.8" stroke="#555" stroke-width="0.85"/>
<line x1="68.5" y1="206.3" x2="68.5" y2="207.8" stroke="#555" stroke-width="0.85"/>
<line x1="76.5" y1="206.3" x2="76.5" y2="207.8" stroke="#555" stroke-width="0.85"/>
<line x1="83.5" y1="206.3" x2="83.5" y2="209.5" stroke="#555" stroke-width="0.85"/>
<line x1="90.5" y1="206.3" x2="90.5" y2="207.8" stroke="#555" stroke-width="0.85"/>
<line x1="97.5" y1="206.3" x2="97.5" y2="207.8" stroke="#555" stroke-width="0.85"/>
<line x1="104.5" y1="206.3" x2="104.5" y2="207.8" stroke="#555" stroke-width="0.85"/>
<line x1="111.5" y1="206.3" x2="111.5" y2="207.8" stroke="#555" stroke-width="0.85"/>
<line x1="118.5" y1="206.3" x2="118.5" y2="209.5" stroke="#555" stroke-width="0.85"/>
<line x1="125.5" y1="206.3" x2="125.5" y2="207.8" stroke="#555" stroke-width="0.85"/>
<line x1="132.5" y1="206.3" x2="132.5" y2="207.8" stroke="#555" stroke-width="0.85"/>
<line x1="139.5" y1="206.3" x2="139.5" y2="207.8" stroke="#555" stroke-width="0.85"/>
<line x1="146.5" y1="206.3" x2="146.5" y2="207.8" stroke="#555" stroke-width="0.85"/>
<line x1="154.5" y1="206.3" x2="154.5" y2="209.5" stroke="#555" stroke-width="0.85"/>
<line x1="161.5" y1="206.3" x2="161.5" y2="207.8" stroke="#555" stroke-width="0.85"/>
<line x1="168.5" y1="206.3" x2="168.5" y2="207.8" stroke="#555" stroke-width="0.85"/>
<line x1="175.5" y1="206.3" x2="175.5" y2="207.8" stroke="#555" stroke-width="0.85"/>
<line x1="182.5" y1="206.3" x2="182.5" y2="207.8" stroke="#555" stroke-width="0.85"/>
<line x1="189.5" y1="206.3" x2="189.5" y2="209.5" stroke="#555" stroke-width="0.85"/>
<line x1="196.5" y1="206.3" x2="196.5" y2="207.8" stroke="#555" stroke-width="0.85"/>
<line x1="203.5" y1="206.3" x2="203.5" y2="207.8" stroke="#555" stroke-width="0.85"/>
<line x1="210.5" y1="206.3" x2="210.5" y2="207.8" stroke="#555" stroke-width="0.85"/>
<line x1="217.5" y1="206.3" x2="217.5" y2="207.8" stroke="#555" stroke-width="0.85"/>
<line x1="224.5" y1="206.3" x2="224.5" y2="209.5" stroke="#555" stroke-width="0.85"/>
<line x1="232.5" y1="206.3" x2="232.5" y2="207.8" stroke="#555" stroke-width="0.85"/>
<line x1="239.5" y1="206.3" x2="239.5" y2="207.8" stroke="#555" stroke-width="0.85"/>
<text transform="translate(47.9,217.8) scale(1,1.1)" font-size="8.6" fill="#333" stroke="#333" stroke-width="0.16" font-family="Liberation Sans, sans-serif" text-anchor="middle">53,625</text>
<text transform="translate(83.35,217.8) scale(1,1.1)" font-size="8.6" fill="#333" stroke="#333" stroke-width="0.16" font-family="Liberation Sans, sans-serif" text-anchor="middle">53,650</text>
<text transform="translate(118.8,217.8) scale(1,1.1)" font-size="8.6" fill="#333" stroke="#333" stroke-width="0.16" font-family="Liberation Sans, sans-serif" text-anchor="middle">53,675</text>
<text transform="translate(154.25,217.8) scale(1,1.1)" font-size="8.6" fill="#333" stroke="#333" stroke-width="0.16" font-family="Liberation Sans, sans-serif" text-anchor="middle">53,700</text>
<text transform="translate(189.7,217.8) scale(1,1.1)" font-size="8.6" fill="#333" stroke="#333" stroke-width="0.16" font-family="Liberation Sans, sans-serif" text-anchor="middle">53,725</text>
<text transform="translate(225.15,217.8) scale(1,1.1)" font-size="8.6" fill="#333" stroke="#333" stroke-width="0.16" font-family="Liberation Sans, sans-serif" text-anchor="middle">53,750</text>
<text x="5.6" y="217.8" font-size="8.6" fill="#111" stroke="#111" stroke-width="0" font-family="Liberation Sans, sans-serif" font-weight="bold">chr19</text>
<text x="250" y="217.8" font-size="8.6" fill="#111" stroke="#111" stroke-width="0" font-family="Liberation Sans, sans-serif" font-weight="bold">kb</text>
<text x="166.1" y="166.1" font-size="9.3" fill="#111" stroke="#111" stroke-width="0" font-family="Liberation Sans, sans-serif" font-weight="bold">Huvec cells</text>
<rect x="77.9" y="123.3" width="4.4" height="13.6" fill="#1db650"/>
<text x="84" y="133.8" font-size="9.2" fill="#333" stroke="#333" stroke-width="0.16" font-family="Liberation Sans, sans-serif">CpG</text>
<line x1="106" y1="130" x2="245.6" y2="130" stroke="#7a7a7a" stroke-width="1.2"/>
<line x1="106" y1="127.2" x2="106" y2="132.8" stroke="#888" stroke-width="0.9"/>
<line x1="245.6" y1="127.2" x2="245.6" y2="132.8" stroke="#888" stroke-width="0.9"/>
<text x="175.8" y="140.7" font-size="9.3" fill="#333" stroke="#333" stroke-width="0.16" font-family="Liberation Sans, sans-serif" text-anchor="middle">miRNA genes</text>
<text transform="translate(29.9,32.1) rotate(-90)" font-size="8.3" fill="#222" stroke="#222" stroke-width="0.16" font-family="Liberation Sans, sans-serif">A1</text>
<text transform="translate(37,32.1) rotate(-90)" font-size="8.3" fill="#222" stroke="#222" stroke-width="0.16" font-family="Liberation Sans, sans-serif">A2</text>
<text transform="translate(44.5,32.1) rotate(-90)" font-size="8.3" fill="#222" stroke="#222" stroke-width="0.16" font-family="Liberation Sans, sans-serif">A3/A4</text>
<text transform="translate(51.1,32.1) rotate(-90)" font-size="8.3" fill="#222" stroke="#222" stroke-width="0.16" font-family="Liberation Sans, sans-serif">A5</text>
<text transform="translate(57.8,32.1) rotate(-90)" font-size="8.3" fill="#222" stroke="#222" stroke-width="0.16" font-family="Liberation Sans, sans-serif">A6</text>
<text transform="translate(65.4,32.1) rotate(-90)" font-size="8.3" fill="#222" stroke="#222" stroke-width="0.16" font-family="Liberation Sans, sans-serif">A7</text>
<text transform="translate(71.6,32.1) rotate(-90)" font-size="8.3" fill="#222" stroke="#222" stroke-width="0.16" font-family="Liberation Sans, sans-serif">A8</text>
<text transform="translate(77.8,32.1) rotate(-90)" font-size="8.3" fill="#222" stroke="#222" stroke-width="0.16" font-family="Liberation Sans, sans-serif">A9</text>
<text transform="translate(83.4,32.1) rotate(-90)" font-size="8.3" fill="#222" stroke="#222" stroke-width="0.16" font-family="Liberation Sans, sans-serif">A10</text>
<text transform="translate(89.2,32.1) rotate(-90)" font-size="8.3" fill="#222" stroke="#222" stroke-width="0.16" font-family="Liberation Sans, sans-serif">A11</text>
<text transform="translate(97.2,32.1) rotate(-90)" font-size="8.3" fill="#222" stroke="#222" stroke-width="0.16" font-family="Liberation Sans, sans-serif">A12</text>
<text transform="translate(104.2,32.1) rotate(-90)" font-size="8.3" fill="#222" stroke="#222" stroke-width="0.16" font-family="Liberation Sans, sans-serif">A13/A14</text>
<text transform="translate(114,32.1) rotate(-90)" font-size="8.3" fill="#222" stroke="#222" stroke-width="0.16" font-family="Liberation Sans, sans-serif">A15</text>
<text transform="translate(222.4,32.1) rotate(-90)" font-size="8.3" fill="#222" stroke="#222" stroke-width="0.16" font-family="Liberation Sans, sans-serif">A16</text>
<text transform="translate(253.1,32.1) rotate(-90)" font-size="8.3" fill="#222" stroke="#222" stroke-width="0.16" font-family="Liberation Sans, sans-serif">A17</text>
<text transform="translate(259.8,32.1) rotate(-90)" font-size="8.3" fill="#222" stroke="#222" stroke-width="0.16" font-family="Liberation Sans, sans-serif">A18</text>
<text transform="translate(266.9,32.1) rotate(-90)" font-size="8.3" fill="#222" stroke="#222" stroke-width="0.16" font-family="Liberation Sans, sans-serif">A19</text>
<path d="M28.4,33.4 Q29.7,35.5 31,37.6 L31,41" fill="none" stroke="#e8202a" stroke-width="0.9"/>
<path d="M38.6,33.4 Q39.7,35.5 40.8,37.6 L40.8,41" fill="none" stroke="#e8202a" stroke-width="0.9"/>
<path d="M41,33.4 Q41.45,35.5 41.9,37.6 L41.9,41" fill="none" stroke="#e8202a" stroke-width="0.9"/>
<path d="M43.4,33.4 Q43.2,35.5 43,37.6 L43,41" fill="none" stroke="#e8202a" stroke-width="0.9"/>
<path d="M45.7,33.4 Q44.85,35.5 44,37.6 L44,41" fill="none" stroke="#e8202a" stroke-width="0.9"/>
<path d="M50.5,33.4 Q49.5,35.5 48.5,37.6 L48.5,41" fill="none" stroke="#e8202a" stroke-width="0.9"/>
<path d="M55,33.4 Q53.85,35.5 52.7,37.6 L52.7,41" fill="none" stroke="#e8202a" stroke-width="0.9"/>
<path d="M63.2,33.4 Q62.4,35.5 61.6,37.6 L61.6,41" fill="none" stroke="#e8202a" stroke-width="0.9"/>
<path d="M69.7,33.4 Q68.5,35.5 67.3,37.6 L67.3,41" fill="none" stroke="#e8202a" stroke-width="0.9"/>
<path d="M77.8,33.4 Q78.9,35.5 80,37.6 L80,41" fill="none" stroke="#e8202a" stroke-width="0.9"/>
<path d="M80.6,33.4 Q80.9,35.5 81.2,37.6 L81.2,41" fill="none" stroke="#e8202a" stroke-width="0.9"/>
<path d="M82.5,33.4 Q82.25,35.5 82,37.6 L82,41" fill="none" stroke="#e8202a" stroke-width="0.9"/>
<path d="M86.4,33.4 Q84.75,35.5 83.1,37.6 L83.1,41" fill="none" stroke="#e8202a" stroke-width="0.9"/>
<path d="M93.9,33.4 Q94.45,35.5 95,37.6 L95,41" fill="none" stroke="#e8202a" stroke-width="0.9"/>
<path d="M97.7,33.4 Q96.75,35.5 95.8,37.6 L95.8,41" fill="none" stroke="#e8202a" stroke-width="0.9"/>
<path d="M101.4,33.4 Q99,35.5 96.6,37.6 L96.6,41" fill="none" stroke="#e8202a" stroke-width="0.9"/>
<path d="M112.7,33.4 Q112.7,35.5 112.7,37.6 L112.7,41" fill="none" stroke="#e8202a" stroke-width="0.9"/>
<path d="M220.5,33.4 Q220.5,35.5 220.5,37.6 L220.5,41" fill="none" stroke="#e8202a" stroke-width="0.9"/>
<path d="M251.8,33.4 Q254.1,35.5 256.4,37.6 L256.4,41" fill="none" stroke="#e8202a" stroke-width="0.9"/>
<path d="M257.8,33.4 Q257.8,35.5 257.8,37.6 L257.8,41" fill="none" stroke="#e8202a" stroke-width="0.9"/>
<path d="M263.8,33.4 Q261.55,35.5 259.3,37.6 L259.3,41" fill="none" stroke="#e8202a" stroke-width="0.9"/>
<text x="0.5" y="242.9" font-size="10.4" fill="#000" stroke="#000" stroke-width="0" font-family="Liberation Sans, sans-serif" font-weight="bold">C</text>
<text transform="translate(30,242.8) scale(1,1.1)" font-size="9" fill="#222" stroke="#222" stroke-width="0.16" font-family="Liberation Sans, sans-serif" text-anchor="middle">Empty</text>
<text transform="translate(30.8,250.6) scale(1,1.1)" font-size="9" fill="#222" stroke="#222" stroke-width="0.16" font-family="Liberation Sans, sans-serif" text-anchor="middle">vector</text>
<text x="80.2" y="249.8" font-size="8.7" fill="#222" stroke="#222" stroke-width="0.16" font-family="Liberation Sans, sans-serif" text-anchor="middle">ATAC-2</text>
<text x="129.9" y="249.8" font-size="8.7" fill="#222" stroke="#222" stroke-width="0.16" font-family="Liberation Sans, sans-serif" text-anchor="middle">ATAC-8</text>
<text x="31.2" y="342.1" font-size="8.9" fill="#222" stroke="#222" stroke-width="0.16" font-family="Liberation Sans, sans-serif" text-anchor="middle">ATAC-3/4</text>
<text x="80.7" y="342.1" font-size="8.9" fill="#222" stroke="#222" stroke-width="0.16" font-family="Liberation Sans, sans-serif" text-anchor="middle">ATAC-11</text>
<text x="130" y="342.1" font-size="8.9" fill="#222" stroke="#222" stroke-width="0.16" font-family="Liberation Sans, sans-serif" text-anchor="middle">ATAC-12</text>
<text x="179.3" y="342.1" font-size="8.9" fill="#222" stroke="#222" stroke-width="0.16" font-family="Liberation Sans, sans-serif" text-anchor="middle">ATAC-17</text>
<g clip-path="url(#ct0)">
<rect x="6" y="252.7" width="48.4" height="36" fill="#021502"/>
<g clip-path="url(#cc0)">
<rect x="6" y="252.7" width="48.4" height="36" filter="url(#f0)"/>
<ellipse cx="27" cy="268" rx="19" ry="16" fill="url(#gc)" opacity="0.35"/>
<ellipse cx="19" cy="265" rx="4" ry="3" fill="url(#gd)" opacity="0.5"/>
<ellipse cx="34" cy="275" rx="5" ry="4" fill="url(#gd)" opacity="0.45"/>
<ellipse cx="9" cy="284" rx="4" ry="5" fill="url(#gb)" opacity="0.6"/>
<path d="M22.95,290.95 A23.3,23.3 0 0 1 5.11,275.97" fill="none" stroke="#33b833" stroke-width="3" opacity="0.6" filter="url(#blur1)"/>
</g>
</g>
<g clip-path="url(#ct1)">
<rect x="55.8" y="252.7" width="48.3" height="36" fill="#021502"/>
<g clip-path="url(#cc1)">
<rect x="55.8" y="252.7" width="48.3" height="36" filter="url(#f1)"/>
<ellipse cx="78" cy="268" rx="17" ry="15" fill="url(#gc)" opacity="0.4"/>
<ellipse cx="75.5" cy="284.5" rx="2.5" ry="1.5" fill="url(#gb)" opacity="0.7"/>
</g>
</g>
<g clip-path="url(#ct2)">
<rect x="106" y="252.7" width="48.2" height="36" fill="#021502"/>
<g clip-path="url(#cc2)">
<rect x="106" y="252.7" width="48.2" height="36" filter="url(#f2)"/>
<ellipse cx="132" cy="270" rx="15" ry="13" fill="url(#gc)" opacity="0.3"/>
<ellipse cx="148" cy="280" rx="4" ry="5" fill="url(#gb)" opacity="0.35"/>
<path d="M147.08,255.67 A22.3,22.3 0 0 1 141.15,289.31" fill="none" stroke="#2a8a2a" stroke-width="2.5" opacity="0.5" filter="url(#blur1)"/>
<path d="M110.69,281.15 A22.3,22.3 0 0 1 115.67,252.92" fill="none" stroke="#1f6f1f" stroke-width="2" opacity="0.5" filter="url(#blur1)"/>
</g>
</g>
<g clip-path="url(#ct3)">
<rect x="6" y="290.1" width="48.4" height="35.2" fill="#021502"/>
<g clip-path="url(#cc3)">
<rect x="6" y="290.1" width="48.4" height="35.2" filter="url(#f3)"/>
<ellipse cx="30" cy="306" rx="16" ry="14" fill="url(#gc)" opacity="0.3"/>
<ellipse cx="18" cy="314" rx="6" ry="5" fill="url(#gd)" opacity="0.4"/>
<path d="M36.97,286.11 A23.3,23.3 0 0 1 43.98,325.85" fill="none" stroke="#36b036" stroke-width="3" opacity="0.6" filter="url(#blur1)"/>
<path d="M7.11,300.03 A23.3,23.3 0 0 1 40.65,287.82" fill="none" stroke="#2a8a2a" stroke-width="2" opacity="0.5" filter="url(#blur1)"/>
</g>
</g>
<g clip-path="url(#ct4)">
<rect x="55.8" y="290.1" width="48.3" height="35.2" fill="#021502"/>
<g clip-path="url(#cc4)">
<rect x="55.8" y="290.1" width="48.3" height="35.2" filter="url(#f4)"/>
<ellipse cx="80" cy="308" rx="18" ry="15" fill="url(#gc)" opacity="0.4"/>
<path d="M62.92,295.67 A22.3,22.3 0 0 1 97.08,295.67" fill="none" stroke="#2a8a2a" stroke-width="2.5" opacity="0.5" filter="url(#blur1)"/>
</g>
</g>
<g clip-path="url(#ct5)">
<rect x="106" y="290.1" width="48.2" height="35.2" fill="#021502"/>
<g clip-path="url(#cc5)">
<rect x="106" y="290.1" width="48.2" height="35.2" filter="url(#f5)"/>
<ellipse cx="130" cy="308" rx="15" ry="13" fill="url(#gc)" opacity="0.25"/>
<path d="M107.7,308 A22.3,22.3 0 0 1 149.31,296.85" fill="none" stroke="#1f6f1f" stroke-width="2" opacity="0.6" filter="url(#blur1)"/>
</g>
</g>
<g clip-path="url(#ct6)">
<rect x="6.2" y="344.5" width="47.8" height="35.4" fill="#031003"/>
<g clip-path="url(#cc6)">
<rect x="6.2" y="344.5" width="47.8" height="35.4" filter="url(#f6)"/>
<ellipse cx="30" cy="364" rx="11" ry="8" fill="url(#gd)" opacity="0.5"/>
<ellipse cx="44" cy="352" rx="6" ry="5" fill="url(#gb)" opacity="0.4"/>
<ellipse cx="50" cy="365" rx="3" ry="9" fill="url(#gb)" opacity="0.4"/>
</g>
</g>
<g clip-path="url(#ct7)">
<rect x="55.4" y="344.5" width="48.1" height="35.4" fill="#031003"/>
<g clip-path="url(#cc7)">
<rect x="55.4" y="344.5" width="48.1" height="35.4" filter="url(#f7)"/>
<ellipse cx="78" cy="352" rx="9" ry="6" fill="url(#gd)" opacity="0.55"/>
<ellipse cx="80" cy="377" rx="3.5" ry="3" fill="url(#gd)" opacity="0.6"/>
<ellipse cx="63" cy="366" rx="6" ry="10" fill="url(#gb)" opacity="0.45"/>
<ellipse cx="92" cy="372" rx="5" ry="5" fill="url(#gb)" opacity="0.35"/>
</g>
</g>
<g clip-path="url(#ct8)">
<rect x="105.1" y="344.5" width="48.3" height="35.4" fill="#031003"/>
<g clip-path="url(#cc8)">
<rect x="105.1" y="344.5" width="48.3" height="35.4" filter="url(#f8)"/>
<ellipse cx="115" cy="362" rx="10" ry="17" fill="url(#gd)" opacity="0.75"/>
<ellipse cx="143" cy="354" rx="7" ry="9" fill="url(#gb)" opacity="0.6"/>
<ellipse cx="132" cy="362" rx="7" ry="7" fill="url(#gb)" opacity="0.5"/>
</g>
</g>
<g clip-path="url(#ct9)">
<rect x="155.2" y="344.5" width="48.2" height="35.4" fill="#031003"/>
<g clip-path="url(#cc9)">
<rect x="155.2" y="344.5" width="48.2" height="35.4" filter="url(#f9)"/>
<ellipse cx="163" cy="362" rx="5" ry="13" fill="url(#gd)" opacity="0.6"/>
<ellipse cx="168" cy="374" rx="5" ry="4" fill="url(#gd)" opacity="0.45"/>
<ellipse cx="186" cy="358" rx="11" ry="12" fill="url(#gb)" opacity="0.45"/>
</g>
</g>
<g clip-path="url(#ct10)">
<rect x="6.2" y="381.6" width="47.8" height="36.4" fill="#031003"/>
<g clip-path="url(#cc10)">
<rect x="6.2" y="381.6" width="47.8" height="36.4" filter="url(#f10)"/>
<ellipse cx="30" cy="400" rx="14" ry="11" fill="url(#gd)" opacity="0.7"/>
<ellipse cx="48" cy="410" rx="5" ry="6" fill="url(#gb)" opacity="0.5"/>
<circle cx="29.5" cy="404" r="21.2" fill="none" stroke="#3ee03e" stroke-width="4" opacity="0.45" filter="url(#blur1)"/>
</g>
</g>
<g clip-path="url(#ct11)">
<rect x="55.4" y="381.6" width="48.1" height="36.4" fill="#031003"/>
<g clip-path="url(#cc11)">
<rect x="55.4" y="381.6" width="48.1" height="36.4" filter="url(#f11)"/>
<ellipse cx="72" cy="392" rx="8" ry="5" fill="url(#gd)" opacity="0.45"/>
<ellipse cx="90" cy="405" rx="9" ry="8" fill="url(#gb)" opacity="0.35"/>
</g>
</g>
<g clip-path="url(#ct12)">
<rect x="105.1" y="381.6" width="48.3" height="36.4" fill="#031003"/>
<g clip-path="url(#cc12)">
<rect x="105.1" y="381.6" width="48.3" height="36.4" filter="url(#f12)"/>
<ellipse cx="135" cy="398" rx="5" ry="6" fill="url(#gd)" opacity="0.45"/>
<ellipse cx="143" cy="395" rx="5" ry="8" fill="url(#gb)" opacity="0.5"/>
</g>
</g>
<g clip-path="url(#ct13)">
<rect x="155.2" y="381.6" width="48.2" height="36.4" fill="#031003"/>
<g clip-path="url(#cc13)">
<rect x="155.2" y="381.6" width="48.2" height="36.4" filter="url(#f13)"/>
<ellipse cx="178" cy="398" rx="7" ry="1.3" fill="url(#gd)" opacity="0.35"/>
<ellipse cx="170" cy="409" rx="4" ry="1.1" fill="url(#gd)" opacity="0.3"/>
<ellipse cx="163" cy="395" rx="3" ry="7" fill="url(#gd)" opacity="0.35"/>
</g>
</g>
<rect x="193.6" y="377.1" width="8" height="1.5" fill="#fff"/>
<path d="M156.3,253.2 H160.5 V324.8 H156.3" fill="none" stroke="#555" stroke-width="0.9"/>
<text x="163.8" y="285.8" font-size="9.6" fill="#222" stroke="#222" stroke-width="0.16" font-family="Liberation Sans, sans-serif">Controls</text>
<text x="163.8" y="296.8" font-size="9.6" fill="#222" stroke="#222" stroke-width="0.16" font-family="Liberation Sans, sans-serif">Exposure 5 sec</text>
<path d="M205.5,344.8 H210.3 V417.2 H205.5" fill="none" stroke="#555" stroke-width="0.9"/>
<text x="214.2" y="383.8" font-size="9.6" fill="#222" stroke="#222" stroke-width="0.16" font-family="Liberation Sans, sans-serif">Exposure 1.4 sec</text>
<text transform="translate(290.8,7.7) scale(0.97,1.04)" font-size="10.4" fill="#000" stroke="#000" stroke-width="0" font-family="Liberation Sans, sans-serif" font-weight="bold">B</text>
<text x="410" y="8.8" font-size="9.8" fill="#222" stroke="#222" stroke-width="0" font-family="Liberation Sans, sans-serif" font-weight="bold" text-anchor="middle">BeWo</text>
<line x1="358.5" y1="11" x2="358.5" y2="17" stroke="#ee1c24" stroke-width="1"/>
<path d="M356.8,15.4 L360.2,15.4 L358.5,18.9 Z" fill="#ee1c24"/>
<line x1="424.5" y1="11" x2="424.5" y2="17" stroke="#ee1c24" stroke-width="1"/>
<path d="M422.8,15.4 L426.2,15.4 L424.5,18.9 Z" fill="#ee1c24"/>
<line x1="433.5" y1="11" x2="433.5" y2="17" stroke="#ee1c24" stroke-width="1"/>
<path d="M431.8,15.4 L435.2,15.4 L433.5,18.9 Z" fill="#ee1c24"/>
<line x1="471.5" y1="11" x2="471.5" y2="17" stroke="#ee1c24" stroke-width="1"/>
<path d="M469.8,15.4 L473.2,15.4 L471.5,18.9 Z" fill="#ee1c24"/>
<rect x="325.9" y="120.08" width="7.3" height="1.32" fill="#4fb8c9"/>
<circle cx="327.15" cy="120.08" r="1.25" fill="none" stroke="#111" stroke-width="0.95"/>
<circle cx="329.55" cy="120.08" r="1.25" fill="none" stroke="#111" stroke-width="0.95"/>
<circle cx="331.95" cy="120.08" r="1.25" fill="none" stroke="#111" stroke-width="0.95"/>
<rect x="335.39" y="119.88" width="7.3" height="1.52" fill="#4fb8c9"/>
<circle cx="336.64" cy="120.08" r="1.25" fill="none" stroke="#111" stroke-width="0.95"/>
<circle cx="339.04" cy="119.57" r="1.25" fill="none" stroke="#111" stroke-width="0.95"/>
<circle cx="341.44" cy="119.78" r="1.25" fill="none" stroke="#111" stroke-width="0.95"/>
<rect x="344.88" y="120.59" width="7.3" height="0.81" fill="#4fb8c9"/>
<circle cx="346.13" cy="120.79" r="1.25" fill="none" stroke="#111" stroke-width="0.95"/>
<circle cx="348.53" cy="120.59" r="1.25" fill="none" stroke="#111" stroke-width="0.95"/>
<circle cx="350.93" cy="120.49" r="1.25" fill="none" stroke="#111" stroke-width="0.95"/>
<rect x="354.37" y="104.82" width="7.3" height="16.58" fill="#4fb8c9"/>
<line x1="358.5" y1="104.82" x2="358.5" y2="98.71" stroke="#333" stroke-width="0.75"/>
<circle cx="358.02" cy="112.35" r="1.25" fill="none" stroke="#111" stroke-width="0.95"/>
<circle cx="358.02" cy="105.84" r="1.25" fill="none" stroke="#111" stroke-width="0.95"/>
<circle cx="358.02" cy="98.71" r="1.25" fill="none" stroke="#111" stroke-width="0.95"/>
<rect x="363.86" y="119.57" width="7.3" height="1.83" fill="#4fb8c9"/>
<circle cx="365.11" cy="119.88" r="1.25" fill="none" stroke="#111" stroke-width="0.95"/>
<circle cx="367.51" cy="119.06" r="1.25" fill="none" stroke="#111" stroke-width="0.95"/>
<circle cx="369.91" cy="119.57" r="1.25" fill="none" stroke="#111" stroke-width="0.95"/>
<rect x="373.35" y="118.56" width="7.3" height="2.84" fill="#4fb8c9"/>
<circle cx="374.6" cy="119.57" r="1.25" fill="none" stroke="#111" stroke-width="0.95"/>
<circle cx="377" cy="116.83" r="1.25" fill="none" stroke="#111" stroke-width="0.95"/>
<circle cx="379.4" cy="119.06" r="1.25" fill="none" stroke="#111" stroke-width="0.95"/>
<rect x="382.84" y="119.06" width="7.3" height="2.33" fill="#4fb8c9"/>
<circle cx="384.09" cy="120.08" r="1.25" fill="none" stroke="#111" stroke-width="0.95"/>
<circle cx="386.49" cy="118.45" r="1.25" fill="none" stroke="#111" stroke-width="0.95"/>
<circle cx="388.89" cy="118.86" r="1.25" fill="none" stroke="#111" stroke-width="0.95"/>
<rect x="392.33" y="118.56" width="7.3" height="2.84" fill="#4fb8c9"/>
<circle cx="393.58" cy="119.06" r="1.25" fill="none" stroke="#111" stroke-width="0.95"/>
<circle cx="395.98" cy="118.05" r="1.25" fill="none" stroke="#111" stroke-width="0.95"/>
<circle cx="398.38" cy="118.56" r="1.25" fill="none" stroke="#111" stroke-width="0.95"/>
<rect x="401.82" y="118.56" width="7.3" height="2.84" fill="#4fb8c9"/>
<circle cx="403.07" cy="119.57" r="1.25" fill="none" stroke="#111" stroke-width="0.95"/>
<circle cx="405.47" cy="117.84" r="1.25" fill="none" stroke="#111" stroke-width="0.95"/>
<circle cx="407.87" cy="118.86" r="1.25" fill="none" stroke="#111" stroke-width="0.95"/>
<rect x="411.31" y="120.08" width="7.3" height="1.32" fill="#4fb8c9"/>
<circle cx="412.56" cy="120.29" r="1.25" fill="none" stroke="#111" stroke-width="0.95"/>
<circle cx="414.96" cy="119.88" r="1.25" fill="none" stroke="#111" stroke-width="0.95"/>
<circle cx="417.36" cy="120.08" r="1.25" fill="none" stroke="#111" stroke-width="0.95"/>
<rect x="420.8" y="104.82" width="7.3" height="16.58" fill="#4fb8c9"/>
<line x1="424.5" y1="104.82" x2="424.5" y2="98.31" stroke="#333" stroke-width="0.75"/>
<circle cx="424.45" cy="111.23" r="1.25" fill="none" stroke="#111" stroke-width="0.95"/>
<circle cx="424.45" cy="106.85" r="1.25" fill="none" stroke="#111" stroke-width="0.95"/>
<circle cx="424.45" cy="98.31" r="1.25" fill="none" stroke="#111" stroke-width="0.95"/>
<rect x="430.29" y="109.4" width="7.3" height="12" fill="#4fb8c9"/>
<line x1="433.5" y1="109.4" x2="433.5" y2="99.73" stroke="#333" stroke-width="0.75"/>
<circle cx="432.34" cy="113.98" r="1.25" fill="none" stroke="#111" stroke-width="0.95"/>
<circle cx="435.54" cy="113.98" r="1.25" fill="none" stroke="#111" stroke-width="0.95"/>
<circle cx="433.94" cy="99.73" r="1.25" fill="none" stroke="#111" stroke-width="0.95"/>
<rect x="439.78" y="119.88" width="7.3" height="1.52" fill="#4fb8c9"/>
<circle cx="441.03" cy="120.08" r="1.25" fill="none" stroke="#111" stroke-width="0.95"/>
<circle cx="443.43" cy="119.57" r="1.25" fill="none" stroke="#111" stroke-width="0.95"/>
<circle cx="445.83" cy="119.88" r="1.25" fill="none" stroke="#111" stroke-width="0.95"/>
<rect x="449.27" y="120.08" width="7.3" height="1.32" fill="#4fb8c9"/>
<circle cx="450.52" cy="120.29" r="1.25" fill="none" stroke="#111" stroke-width="0.95"/>
<circle cx="452.92" cy="119.88" r="1.25" fill="none" stroke="#111" stroke-width="0.95"/>
<circle cx="455.32" cy="120.08" r="1.25" fill="none" stroke="#111" stroke-width="0.95"/>
<rect x="458.76" y="120.08" width="7.3" height="1.32" fill="#4fb8c9"/>
<circle cx="460.01" cy="120.08" r="1.25" fill="none" stroke="#111" stroke-width="0.95"/>
<circle cx="462.41" cy="120.08" r="1.25" fill="none" stroke="#111" stroke-width="0.95"/>
<circle cx="464.81" cy="120.08" r="1.25" fill="none" stroke="#111" stroke-width="0.95"/>
<rect x="468.25" y="65.14" width="7.3" height="56.26" fill="#4fb8c9"/>
<line x1="471.5" y1="65.14" x2="471.5" y2="51.91" stroke="#333" stroke-width="0.75"/>
<circle cx="471.9" cy="82.94" r="1.25" fill="none" stroke="#111" stroke-width="0.95"/>
<circle cx="471.9" cy="61.07" r="1.25" fill="none" stroke="#111" stroke-width="0.95"/>
<circle cx="471.9" cy="51.91" r="1.25" fill="none" stroke="#111" stroke-width="0.95"/>
<rect x="477.74" y="120.08" width="7.3" height="1.32" fill="#4fb8c9"/>
<circle cx="478.99" cy="120.08" r="1.25" fill="none" stroke="#111" stroke-width="0.95"/>
<circle cx="481.39" cy="120.08" r="1.25" fill="none" stroke="#111" stroke-width="0.95"/>
<circle cx="483.79" cy="120.08" r="1.25" fill="none" stroke="#111" stroke-width="0.95"/>
<rect x="487.23" y="120.08" width="7.3" height="1.32" fill="#4fb8c9"/>
<circle cx="488.48" cy="120.29" r="1.25" fill="none" stroke="#111" stroke-width="0.95"/>
<circle cx="490.88" cy="119.88" r="1.25" fill="none" stroke="#111" stroke-width="0.95"/>
<circle cx="493.28" cy="120.08" r="1.25" fill="none" stroke="#111" stroke-width="0.95"/>
<line x1="324.5" y1="21.3" x2="324.5" y2="127" stroke="#8a8a8a" stroke-width="1"/>
<line x1="324.5" y1="126.5" x2="496.8" y2="126.5" stroke="#8a8a8a" stroke-width="1"/>
<line x1="321.7" y1="121.5" x2="324" y2="121.5" stroke="#444" stroke-width="0.9"/>
<text transform="translate(319.6,123.9) scale(1,1.14)" font-size="8.4" fill="#222" stroke="#222" stroke-width="0.16" font-family="Liberation Sans, sans-serif" text-anchor="end">0</text>
<line x1="321.7" y1="100.5" x2="324" y2="100.5" stroke="#444" stroke-width="0.9"/>
<text transform="translate(319.6,103.55) scale(1,1.14)" font-size="8.4" fill="#222" stroke="#222" stroke-width="0.16" font-family="Liberation Sans, sans-serif" text-anchor="end">20</text>
<line x1="321.7" y1="80.5" x2="324" y2="80.5" stroke="#444" stroke-width="0.9"/>
<text transform="translate(319.6,83.2) scale(1,1.14)" font-size="8.4" fill="#222" stroke="#222" stroke-width="0.16" font-family="Liberation Sans, sans-serif" text-anchor="end">40</text>
<line x1="321.7" y1="60.5" x2="324" y2="60.5" stroke="#444" stroke-width="0.9"/>
<text transform="translate(319.6,62.85) scale(1,1.14)" font-size="8.4" fill="#222" stroke="#222" stroke-width="0.16" font-family="Liberation Sans, sans-serif" text-anchor="end">60</text>
<line x1="321.7" y1="39.5" x2="324" y2="39.5" stroke="#444" stroke-width="0.9"/>
<text transform="translate(319.6,42.5) scale(1,1.14)" font-size="8.4" fill="#222" stroke="#222" stroke-width="0.16" font-family="Liberation Sans, sans-serif" text-anchor="end">80</text>
<line x1="329.5" y1="127" x2="329.5" y2="129" stroke="#555" stroke-width="0.8"/>
<line x1="339.5" y1="127" x2="339.5" y2="129" stroke="#555" stroke-width="0.8"/>
<line x1="348.5" y1="127" x2="348.5" y2="129" stroke="#555" stroke-width="0.8"/>
<line x1="358.5" y1="127" x2="358.5" y2="129" stroke="#555" stroke-width="0.8"/>
<line x1="367.5" y1="127" x2="367.5" y2="129" stroke="#555" stroke-width="0.8"/>
<line x1="377.5" y1="127" x2="377.5" y2="129" stroke="#555" stroke-width="0.8"/>
<line x1="386.5" y1="127" x2="386.5" y2="129" stroke="#555" stroke-width="0.8"/>
<line x1="395.5" y1="127" x2="395.5" y2="129" stroke="#555" stroke-width="0.8"/>
<line x1="405.5" y1="127" x2="405.5" y2="129" stroke="#555" stroke-width="0.8"/>
<line x1="414.5" y1="127" x2="414.5" y2="129" stroke="#555" stroke-width="0.8"/>
<line x1="424.5" y1="127" x2="424.5" y2="129" stroke="#555" stroke-width="0.8"/>
<line x1="433.5" y1="127" x2="433.5" y2="129" stroke="#555" stroke-width="0.8"/>
<line x1="443.5" y1="127" x2="443.5" y2="129" stroke="#555" stroke-width="0.8"/>
<line x1="452.5" y1="127" x2="452.5" y2="129" stroke="#555" stroke-width="0.8"/>
<line x1="462.5" y1="127" x2="462.5" y2="129" stroke="#555" stroke-width="0.8"/>
<line x1="471.5" y1="127" x2="471.5" y2="129" stroke="#555" stroke-width="0.8"/>
<line x1="481.5" y1="127" x2="481.5" y2="129" stroke="#555" stroke-width="0.8"/>
<line x1="490.5" y1="127" x2="490.5" y2="129" stroke="#555" stroke-width="0.8"/>
<text transform="translate(301.6,69.6) rotate(-90)" font-size="9.7" fill="#222" stroke="#222" stroke-width="0.16" font-family="Liberation Sans, sans-serif" text-anchor="middle">Luc activity (fold)</text>
<polygon points="358.02,82.9 358.55,84.22 359.97,84.32 358.88,85.23 359.22,86.61 358.02,85.85 356.82,86.61 357.16,85.23 356.07,84.32 357.49,84.22" fill="#1a1a1a"/>
<polygon points="422.38,82.6 422.9,83.92 424.32,84.02 423.23,84.93 423.58,86.31 422.38,85.55 421.17,86.31 421.52,84.93 420.43,84.02 421.85,83.92" fill="#1a1a1a"/>
<polygon points="426.53,82.6 427.05,83.92 428.47,84.02 427.38,84.93 427.73,86.31 426.53,85.55 425.32,86.31 425.67,84.93 424.58,84.02 426,83.92" fill="#1a1a1a"/>
<polygon points="465.67,39.6 466.2,40.92 467.62,41.02 466.53,41.93 466.88,43.31 465.67,42.55 464.47,43.31 464.82,41.93 463.73,41.02 465.15,40.92" fill="#1a1a1a"/>
<polygon points="469.82,39.6 470.35,40.92 471.77,41.02 470.68,41.93 471.03,43.31 469.82,42.55 468.62,43.31 468.97,41.93 467.88,41.02 469.3,40.92" fill="#1a1a1a"/>
<polygon points="473.97,39.6 474.5,40.92 475.92,41.02 474.83,41.93 475.18,43.31 473.97,42.55 472.77,43.31 473.12,41.93 472.03,41.02 473.45,40.92" fill="#1a1a1a"/>
<polygon points="478.12,39.6 478.65,40.92 480.07,41.02 478.98,41.93 479.33,43.31 478.12,42.55 476.92,43.31 477.27,41.93 476.18,41.02 477.6,40.92" fill="#1a1a1a"/>
<text x="410" y="143.2" font-size="9.8" fill="#222" stroke="#222" stroke-width="0" font-family="Liberation Sans, sans-serif" font-weight="bold" text-anchor="middle">JEG3</text>
<line x1="358.5" y1="147.2" x2="358.5" y2="153.2" stroke="#ee1c24" stroke-width="1"/>
<path d="M356.8,151.6 L360.2,151.6 L358.5,155.1 Z" fill="#ee1c24"/>
<line x1="424.5" y1="147.2" x2="424.5" y2="153.2" stroke="#ee1c24" stroke-width="1"/>
<path d="M422.8,151.6 L426.2,151.6 L424.5,155.1 Z" fill="#ee1c24"/>
<line x1="433.5" y1="147.2" x2="433.5" y2="153.2" stroke="#ee1c24" stroke-width="1"/>
<path d="M431.8,151.6 L435.2,151.6 L433.5,155.1 Z" fill="#ee1c24"/>
<line x1="471.5" y1="147.2" x2="471.5" y2="153.2" stroke="#ee1c24" stroke-width="1"/>
<path d="M469.8,151.6 L473.2,151.6 L471.5,155.1 Z" fill="#ee1c24"/>
<rect x="325.9" y="247.39" width="7.3" height="1.66" fill="#4fb8c9"/>
<circle cx="327.15" cy="247.39" r="1.25" fill="none" stroke="#111" stroke-width="0.95"/>
<circle cx="327.95" cy="247.39" r="1.25" fill="none" stroke="#111" stroke-width="0.95"/>
<circle cx="328.75" cy="247.39" r="1.25" fill="none" stroke="#111" stroke-width="0.95"/>
<circle cx="329.55" cy="247.39" r="1.25" fill="none" stroke="#111" stroke-width="0.95"/>
<circle cx="330.35" cy="247.39" r="1.25" fill="none" stroke="#111" stroke-width="0.95"/>
<circle cx="331.15" cy="247.39" r="1.25" fill="none" stroke="#111" stroke-width="0.95"/>
<circle cx="331.95" cy="247.39" r="1.25" fill="none" stroke="#111" stroke-width="0.95"/>
<rect x="335.39" y="241.53" width="7.3" height="7.52" fill="#4fb8c9"/>
<line x1="339.5" y1="241.53" x2="339.5" y2="235.13" stroke="#333" stroke-width="0.75"/>
<circle cx="337.44" cy="246.03" r="1.25" fill="none" stroke="#111" stroke-width="0.95"/>
<circle cx="340.44" cy="244.67" r="1.25" fill="none" stroke="#111" stroke-width="0.95"/>
<circle cx="339.04" cy="245.35" r="1.25" fill="none" stroke="#111" stroke-width="0.95"/>
<circle cx="339.04" cy="237.86" r="1.25" fill="none" stroke="#111" stroke-width="0.95"/>
<circle cx="339.04" cy="235.13" r="1.25" fill="none" stroke="#111" stroke-width="0.95"/>
<rect x="344.88" y="234.86" width="7.3" height="14.19" fill="#4fb8c9"/>
<line x1="348.5" y1="234.86" x2="348.5" y2="226.97" stroke="#333" stroke-width="0.75"/>
<circle cx="348.53" cy="246.03" r="1.25" fill="none" stroke="#111" stroke-width="0.95"/>
<circle cx="346.73" cy="229.01" r="1.25" fill="none" stroke="#111" stroke-width="0.95"/>
<circle cx="350.33" cy="229.01" r="1.25" fill="none" stroke="#111" stroke-width="0.95"/>
<rect x="354.37" y="231.73" width="7.3" height="17.32" fill="#4fb8c9"/>
<line x1="358.5" y1="231.73" x2="358.5" y2="227.24" stroke="#333" stroke-width="0.75"/>
<circle cx="358.02" cy="239.22" r="1.25" fill="none" stroke="#111" stroke-width="0.95"/>
<circle cx="359.52" cy="233.77" r="1.25" fill="none" stroke="#111" stroke-width="0.95"/>
<circle cx="356.52" cy="232.41" r="1.25" fill="none" stroke="#111" stroke-width="0.95"/>
<circle cx="358.02" cy="228.33" r="1.25" fill="none" stroke="#111" stroke-width="0.95"/>
<circle cx="358.02" cy="227.24" r="1.25" fill="none" stroke="#111" stroke-width="0.95"/>
<rect x="363.86" y="246.71" width="7.3" height="2.34" fill="#4fb8c9"/>
<circle cx="365.59" cy="248.07" r="1.25" fill="none" stroke="#111" stroke-width="0.95"/>
<circle cx="366.87" cy="247.39" r="1.25" fill="none" stroke="#111" stroke-width="0.95"/>
<circle cx="368.15" cy="246.71" r="1.25" fill="none" stroke="#111" stroke-width="0.95"/>
<circle cx="369.43" cy="246.03" r="1.25" fill="none" stroke="#111" stroke-width="0.95"/>
<rect x="373.35" y="244.67" width="7.3" height="4.38" fill="#4fb8c9"/>
<circle cx="377" cy="246.71" r="1.25" fill="none" stroke="#111" stroke-width="0.95"/>
<circle cx="377" cy="244.67" r="1.25" fill="none" stroke="#111" stroke-width="0.95"/>
<circle cx="377" cy="242.9" r="1.25" fill="none" stroke="#111" stroke-width="0.95"/>
<rect x="382.84" y="247.66" width="7.3" height="1.39" fill="#4fb8c9"/>
<circle cx="385.29" cy="248.07" r="1.25" fill="none" stroke="#111" stroke-width="0.95"/>
<circle cx="387.69" cy="247.39" r="1.25" fill="none" stroke="#111" stroke-width="0.95"/>
<rect x="392.33" y="214.98" width="7.3" height="34.07" fill="#4fb8c9"/>
<line x1="395.5" y1="214.98" x2="395.5" y2="177.95" stroke="#333" stroke-width="0.75"/>
<circle cx="394.38" cy="248.07" r="1.25" fill="none" stroke="#111" stroke-width="0.95"/>
<circle cx="397.58" cy="248.07" r="1.25" fill="none" stroke="#111" stroke-width="0.95"/>
<circle cx="395.98" cy="234.05" r="1.25" fill="none" stroke="#111" stroke-width="0.95"/>
<circle cx="395.98" cy="189.25" r="1.25" fill="none" stroke="#111" stroke-width="0.95"/>
<rect x="401.82" y="246.71" width="7.3" height="2.34" fill="#4fb8c9"/>
<circle cx="404.27" cy="246.71" r="1.25" fill="none" stroke="#111" stroke-width="0.95"/>
<circle cx="406.67" cy="245.48" r="1.25" fill="none" stroke="#111" stroke-width="0.95"/>
<rect x="411.31" y="247.39" width="7.3" height="1.66" fill="#4fb8c9"/>
<circle cx="413.76" cy="247.39" r="1.25" fill="none" stroke="#111" stroke-width="0.95"/>
<circle cx="416.16" cy="247.39" r="1.25" fill="none" stroke="#111" stroke-width="0.95"/>
<rect x="420.8" y="223.43" width="7.3" height="25.62" fill="#4fb8c9"/>
<line x1="424.5" y1="223.43" x2="424.5" y2="211.44" stroke="#333" stroke-width="0.75"/>
<circle cx="424.45" cy="235.41" r="1.25" fill="none" stroke="#111" stroke-width="0.95"/>
<circle cx="424.45" cy="233.09" r="1.25" fill="none" stroke="#111" stroke-width="0.95"/>
<circle cx="424.45" cy="228.33" r="1.25" fill="none" stroke="#111" stroke-width="0.95"/>
<circle cx="424.45" cy="223.29" r="1.25" fill="none" stroke="#111" stroke-width="0.95"/>
<circle cx="424.45" cy="203" r="1.25" fill="none" stroke="#111" stroke-width="0.95"/>
<rect x="430.29" y="238.95" width="7.3" height="10.1" fill="#4fb8c9"/>
<line x1="433.5" y1="238.95" x2="433.5" y2="231.32" stroke="#333" stroke-width="0.75"/>
<circle cx="432.34" cy="242.08" r="1.25" fill="none" stroke="#111" stroke-width="0.95"/>
<circle cx="435.54" cy="242.08" r="1.25" fill="none" stroke="#111" stroke-width="0.95"/>
<circle cx="433.94" cy="235.41" r="1.25" fill="none" stroke="#111" stroke-width="0.95"/>
<circle cx="433.94" cy="231.32" r="1.25" fill="none" stroke="#111" stroke-width="0.95"/>
<rect x="439.78" y="247.39" width="7.3" height="1.66" fill="#4fb8c9"/>
<circle cx="442.23" cy="247.39" r="1.25" fill="none" stroke="#111" stroke-width="0.95"/>
<circle cx="444.63" cy="247.39" r="1.25" fill="none" stroke="#111" stroke-width="0.95"/>
<rect x="449.27" y="247.66" width="7.3" height="1.39" fill="#4fb8c9"/>
<circle cx="450.52" cy="247.93" r="1.25" fill="none" stroke="#111" stroke-width="0.95"/>
<circle cx="452.92" cy="247.39" r="1.25" fill="none" stroke="#111" stroke-width="0.95"/>
<circle cx="455.32" cy="247.66" r="1.25" fill="none" stroke="#111" stroke-width="0.95"/>
<rect x="458.76" y="247.39" width="7.3" height="1.66" fill="#4fb8c9"/>
<circle cx="461.21" cy="247.39" r="1.25" fill="none" stroke="#111" stroke-width="0.95"/>
<circle cx="463.61" cy="247.39" r="1.25" fill="none" stroke="#111" stroke-width="0.95"/>
<rect x="468.25" y="237.04" width="7.3" height="12.01" fill="#4fb8c9"/>
<line x1="471.5" y1="237.04" x2="471.5" y2="226.15" stroke="#333" stroke-width="0.75"/>
<circle cx="470.7" cy="243.71" r="1.25" fill="none" stroke="#111" stroke-width="0.95"/>
<circle cx="473.1" cy="242.9" r="1.25" fill="none" stroke="#111" stroke-width="0.95"/>
<circle cx="471.9" cy="228.33" r="1.25" fill="none" stroke="#111" stroke-width="0.95"/>
<circle cx="471.9" cy="226.15" r="1.25" fill="none" stroke="#111" stroke-width="0.95"/>
<rect x="477.74" y="247.66" width="7.3" height="1.39" fill="#4fb8c9"/>
<circle cx="480.19" cy="247.66" r="1.25" fill="none" stroke="#111" stroke-width="0.95"/>
<circle cx="482.59" cy="247.66" r="1.25" fill="none" stroke="#111" stroke-width="0.95"/>
<rect x="487.23" y="246.71" width="7.3" height="2.34" fill="#4fb8c9"/>
<circle cx="489.68" cy="247.39" r="1.25" fill="none" stroke="#111" stroke-width="0.95"/>
<circle cx="492.08" cy="246.03" r="1.25" fill="none" stroke="#111" stroke-width="0.95"/>
<line x1="324.5" y1="149.4" x2="324.5" y2="255" stroke="#8a8a8a" stroke-width="1"/>
<line x1="324.5" y1="254.5" x2="496.8" y2="254.5" stroke="#8a8a8a" stroke-width="1"/>
<line x1="321.7" y1="248.5" x2="324" y2="248.5" stroke="#444" stroke-width="0.9"/>
<text transform="translate(319.6,251.55) scale(1,1.14)" font-size="8.4" fill="#222" stroke="#222" stroke-width="0.16" font-family="Liberation Sans, sans-serif" text-anchor="end">0</text>
<line x1="321.7" y1="221.5" x2="324" y2="221.5" stroke="#444" stroke-width="0.9"/>
<text transform="translate(319.6,224.32) scale(1,1.14)" font-size="8.4" fill="#222" stroke="#222" stroke-width="0.16" font-family="Liberation Sans, sans-serif" text-anchor="end">20</text>
<line x1="321.7" y1="194.5" x2="324" y2="194.5" stroke="#444" stroke-width="0.9"/>
<text transform="translate(319.6,197.09) scale(1,1.14)" font-size="8.4" fill="#222" stroke="#222" stroke-width="0.16" font-family="Liberation Sans, sans-serif" text-anchor="end">40</text>
<line x1="321.7" y1="167.5" x2="324" y2="167.5" stroke="#444" stroke-width="0.9"/>
<text transform="translate(319.6,169.86) scale(1,1.14)" font-size="8.4" fill="#222" stroke="#222" stroke-width="0.16" font-family="Liberation Sans, sans-serif" text-anchor="end">60</text>
<line x1="329.5" y1="255" x2="329.5" y2="257" stroke="#555" stroke-width="0.8"/>
<line x1="339.5" y1="255" x2="339.5" y2="257" stroke="#555" stroke-width="0.8"/>
<line x1="348.5" y1="255" x2="348.5" y2="257" stroke="#555" stroke-width="0.8"/>
<line x1="358.5" y1="255" x2="358.5" y2="257" stroke="#555" stroke-width="0.8"/>
<line x1="367.5" y1="255" x2="367.5" y2="257" stroke="#555" stroke-width="0.8"/>
<line x1="377.5" y1="255" x2="377.5" y2="257" stroke="#555" stroke-width="0.8"/>
<line x1="386.5" y1="255" x2="386.5" y2="257" stroke="#555" stroke-width="0.8"/>
<line x1="395.5" y1="255" x2="395.5" y2="257" stroke="#555" stroke-width="0.8"/>
<line x1="405.5" y1="255" x2="405.5" y2="257" stroke="#555" stroke-width="0.8"/>
<line x1="414.5" y1="255" x2="414.5" y2="257" stroke="#555" stroke-width="0.8"/>
<line x1="424.5" y1="255" x2="424.5" y2="257" stroke="#555" stroke-width="0.8"/>
<line x1="433.5" y1="255" x2="433.5" y2="257" stroke="#555" stroke-width="0.8"/>
<line x1="443.5" y1="255" x2="443.5" y2="257" stroke="#555" stroke-width="0.8"/>
<line x1="452.5" y1="255" x2="452.5" y2="257" stroke="#555" stroke-width="0.8"/>
<line x1="462.5" y1="255" x2="462.5" y2="257" stroke="#555" stroke-width="0.8"/>
<line x1="471.5" y1="255" x2="471.5" y2="257" stroke="#555" stroke-width="0.8"/>
<line x1="481.5" y1="255" x2="481.5" y2="257" stroke="#555" stroke-width="0.8"/>
<line x1="490.5" y1="255" x2="490.5" y2="257" stroke="#555" stroke-width="0.8"/>
<text transform="translate(301.6,201.6) rotate(-90)" font-size="9.7" fill="#222" stroke="#222" stroke-width="0.16" font-family="Liberation Sans, sans-serif" text-anchor="middle">Luc activity (fold)</text>
<polygon points="391.83,158.85 392.36,160.17 393.78,160.27 392.69,161.18 393.03,162.56 391.83,161.8 390.63,162.56 390.97,161.18 389.88,160.27 391.3,160.17" fill="#1a1a1a"/>
<polygon points="395.98,158.85 396.51,160.17 397.93,160.27 396.84,161.18 397.18,162.56 395.98,161.8 394.78,162.56 395.12,161.18 394.03,160.27 395.45,160.17" fill="#1a1a1a"/>
<polygon points="400.13,158.85 400.66,160.17 402.08,160.27 400.99,161.18 401.33,162.56 400.13,161.8 398.93,162.56 399.27,161.18 398.18,160.27 399.6,160.17" fill="#1a1a1a"/>
<polygon points="424.45,184.8 424.98,186.12 426.4,186.22 425.31,187.13 425.65,188.51 424.45,187.75 423.25,188.51 423.59,187.13 422.5,186.22 423.92,186.12" fill="#1a1a1a"/>
<text x="410.2" y="270.6" font-size="9.8" fill="#222" stroke="#222" stroke-width="0" font-family="Liberation Sans, sans-serif" font-weight="bold" text-anchor="middle">PHT</text>
<line x1="358.5" y1="275.1" x2="358.5" y2="281.1" stroke="#ee1c24" stroke-width="1"/>
<path d="M356.8,279.5 L360.2,279.5 L358.5,283 Z" fill="#ee1c24"/>
<line x1="424.5" y1="275.1" x2="424.5" y2="281.1" stroke="#ee1c24" stroke-width="1"/>
<path d="M422.8,279.5 L426.2,279.5 L424.5,283 Z" fill="#ee1c24"/>
<line x1="434.5" y1="275.1" x2="434.5" y2="281.1" stroke="#ee1c24" stroke-width="1"/>
<path d="M432.8,279.5 L436.2,279.5 L434.5,283 Z" fill="#ee1c24"/>
<line x1="472.5" y1="275.1" x2="472.5" y2="281.1" stroke="#ee1c24" stroke-width="1"/>
<path d="M470.8,279.5 L474.2,279.5 L472.5,283 Z" fill="#ee1c24"/>
<rect x="326.1" y="371.23" width="7.3" height="5.77" fill="#4fb8c9"/>
<circle cx="327.35" cy="371.23" r="1.25" fill="none" stroke="#111" stroke-width="0.95"/>
<circle cx="328.15" cy="371.23" r="1.25" fill="none" stroke="#111" stroke-width="0.95"/>
<circle cx="328.95" cy="371.23" r="1.25" fill="none" stroke="#111" stroke-width="0.95"/>
<circle cx="329.75" cy="371.23" r="1.25" fill="none" stroke="#111" stroke-width="0.95"/>
<circle cx="330.55" cy="371.23" r="1.25" fill="none" stroke="#111" stroke-width="0.95"/>
<circle cx="331.35" cy="371.23" r="1.25" fill="none" stroke="#111" stroke-width="0.95"/>
<circle cx="332.15" cy="371.23" r="1.25" fill="none" stroke="#111" stroke-width="0.95"/>
<rect x="335.59" y="365.2" width="7.3" height="11.8" fill="#4fb8c9"/>
<line x1="339.5" y1="371.23" x2="339.5" y2="355.35" stroke="#333" stroke-width="0.75"/>
<circle cx="339.24" cy="370.13" r="1.25" fill="none" stroke="#111" stroke-width="0.95"/>
<circle cx="339.24" cy="368.49" r="1.25" fill="none" stroke="#111" stroke-width="0.95"/>
<circle cx="339.24" cy="355.35" r="1.25" fill="none" stroke="#111" stroke-width="0.95"/>
<rect x="345.08" y="374.51" width="7.3" height="2.49" fill="#4fb8c9"/>
<circle cx="346.33" cy="375.06" r="1.25" fill="none" stroke="#111" stroke-width="0.95"/>
<circle cx="348.73" cy="374.51" r="1.25" fill="none" stroke="#111" stroke-width="0.95"/>
<circle cx="351.13" cy="373.96" r="1.25" fill="none" stroke="#111" stroke-width="0.95"/>
<rect x="354.57" y="365.2" width="7.3" height="11.8" fill="#4fb8c9"/>
<line x1="358.5" y1="369.04" x2="358.5" y2="361.37" stroke="#333" stroke-width="0.75"/>
<circle cx="356.72" cy="370.68" r="1.25" fill="none" stroke="#111" stroke-width="0.95"/>
<circle cx="359.72" cy="369.58" r="1.25" fill="none" stroke="#111" stroke-width="0.95"/>
<circle cx="358.22" cy="368.49" r="1.25" fill="none" stroke="#111" stroke-width="0.95"/>
<circle cx="356.72" cy="365.75" r="1.25" fill="none" stroke="#111" stroke-width="0.95"/>
<circle cx="359.72" cy="364.11" r="1.25" fill="none" stroke="#111" stroke-width="0.95"/>
<circle cx="358.22" cy="357.54" r="1.25" fill="none" stroke="#111" stroke-width="0.95"/>
<rect x="364.06" y="373.96" width="7.3" height="3.04" fill="#4fb8c9"/>
<circle cx="366.51" cy="373.96" r="1.25" fill="none" stroke="#111" stroke-width="0.95"/>
<circle cx="368.91" cy="373.42" r="1.25" fill="none" stroke="#111" stroke-width="0.95"/>
<rect x="373.55" y="373.96" width="7.3" height="3.04" fill="#4fb8c9"/>
<circle cx="376" cy="374.51" r="1.25" fill="none" stroke="#111" stroke-width="0.95"/>
<circle cx="378.4" cy="372.32" r="1.25" fill="none" stroke="#111" stroke-width="0.95"/>
<rect x="383.04" y="371.23" width="7.3" height="5.77" fill="#4fb8c9"/>
<circle cx="384.29" cy="372.87" r="1.25" fill="none" stroke="#111" stroke-width="0.95"/>
<circle cx="386.69" cy="369.58" r="1.25" fill="none" stroke="#111" stroke-width="0.95"/>
<circle cx="389.09" cy="370.13" r="1.25" fill="none" stroke="#111" stroke-width="0.95"/>
<rect x="392.53" y="370.13" width="7.3" height="6.87" fill="#4fb8c9"/>
<circle cx="393.78" cy="370.13" r="1.25" fill="none" stroke="#111" stroke-width="0.95"/>
<circle cx="396.18" cy="369.04" r="1.25" fill="none" stroke="#111" stroke-width="0.95"/>
<circle cx="398.58" cy="369.58" r="1.25" fill="none" stroke="#111" stroke-width="0.95"/>
<rect x="402.02" y="363.29" width="7.3" height="13.71" fill="#4fb8c9"/>
<circle cx="405.67" cy="364.66" r="1.25" fill="none" stroke="#111" stroke-width="0.95"/>
<circle cx="405.67" cy="362.47" r="1.25" fill="none" stroke="#111" stroke-width="0.95"/>
<circle cx="405.67" cy="360.55" r="1.25" fill="none" stroke="#111" stroke-width="0.95"/>
<rect x="411.51" y="372.87" width="7.3" height="4.13" fill="#4fb8c9"/>
<circle cx="413.96" cy="373.42" r="1.25" fill="none" stroke="#111" stroke-width="0.95"/>
<circle cx="416.36" cy="371.77" r="1.25" fill="none" stroke="#111" stroke-width="0.95"/>
<rect x="421" y="362.74" width="7.3" height="14.26" fill="#4fb8c9"/>
<circle cx="422.25" cy="364.11" r="1.25" fill="none" stroke="#111" stroke-width="0.95"/>
<circle cx="423.45" cy="363.01" r="1.25" fill="none" stroke="#111" stroke-width="0.95"/>
<circle cx="424.65" cy="363.56" r="1.25" fill="none" stroke="#111" stroke-width="0.95"/>
<circle cx="425.85" cy="362.47" r="1.25" fill="none" stroke="#111" stroke-width="0.95"/>
<circle cx="427.05" cy="364.11" r="1.25" fill="none" stroke="#111" stroke-width="0.95"/>
<rect x="430.49" y="342.76" width="7.3" height="34.24" fill="#4fb8c9"/>
<line x1="434.5" y1="366.3" x2="434.5" y2="319.22" stroke="#333" stroke-width="0.75"/>
<circle cx="434.14" cy="367.39" r="1.25" fill="none" stroke="#111" stroke-width="0.95"/>
<circle cx="434.14" cy="364.11" r="1.25" fill="none" stroke="#111" stroke-width="0.95"/>
<circle cx="434.14" cy="346.59" r="1.25" fill="none" stroke="#111" stroke-width="0.95"/>
<circle cx="434.14" cy="337.29" r="1.25" fill="none" stroke="#111" stroke-width="0.95"/>
<circle cx="434.14" cy="320.32" r="1.25" fill="none" stroke="#111" stroke-width="0.95"/>
<circle cx="434.14" cy="318.68" r="1.25" fill="none" stroke="#111" stroke-width="0.95"/>
<rect x="439.98" y="373.96" width="7.3" height="3.04" fill="#4fb8c9"/>
<circle cx="442.43" cy="374.51" r="1.25" fill="none" stroke="#111" stroke-width="0.95"/>
<circle cx="444.83" cy="373.42" r="1.25" fill="none" stroke="#111" stroke-width="0.95"/>
<rect x="449.47" y="373.96" width="7.3" height="3.04" fill="#4fb8c9"/>
<circle cx="451.92" cy="373.96" r="1.25" fill="none" stroke="#111" stroke-width="0.95"/>
<circle cx="454.32" cy="373.96" r="1.25" fill="none" stroke="#111" stroke-width="0.95"/>
<rect x="458.96" y="375.06" width="7.3" height="1.94" fill="#4fb8c9"/>
<circle cx="460.21" cy="375.06" r="1.25" fill="none" stroke="#111" stroke-width="0.95"/>
<circle cx="462.61" cy="375.06" r="1.25" fill="none" stroke="#111" stroke-width="0.95"/>
<circle cx="465.01" cy="375.06" r="1.25" fill="none" stroke="#111" stroke-width="0.95"/>
<rect x="468.45" y="344.95" width="7.3" height="32.05" fill="#4fb8c9"/>
<line x1="472.5" y1="355.35" x2="472.5" y2="334.55" stroke="#333" stroke-width="0.75"/>
<circle cx="470.7" cy="359.18" r="1.25" fill="none" stroke="#111" stroke-width="0.95"/>
<circle cx="473.5" cy="359.18" r="1.25" fill="none" stroke="#111" stroke-width="0.95"/>
<circle cx="472.1" cy="343.86" r="1.25" fill="none" stroke="#111" stroke-width="0.95"/>
<circle cx="472.1" cy="340.57" r="1.25" fill="none" stroke="#111" stroke-width="0.95"/>
<circle cx="470.8" cy="335.37" r="1.25" fill="none" stroke="#111" stroke-width="0.95"/>
<circle cx="473.4" cy="333.73" r="1.25" fill="none" stroke="#111" stroke-width="0.95"/>
<rect x="477.94" y="373.96" width="7.3" height="3.04" fill="#4fb8c9"/>
<circle cx="480.39" cy="373.96" r="1.25" fill="none" stroke="#111" stroke-width="0.95"/>
<circle cx="482.79" cy="373.96" r="1.25" fill="none" stroke="#111" stroke-width="0.95"/>
<rect x="487.43" y="372.87" width="7.3" height="4.13" fill="#4fb8c9"/>
<circle cx="489.88" cy="371.77" r="1.25" fill="none" stroke="#111" stroke-width="0.95"/>
<circle cx="492.28" cy="368.49" r="1.25" fill="none" stroke="#111" stroke-width="0.95"/>
<line x1="324.5" y1="277.4" x2="324.5" y2="383" stroke="#8a8a8a" stroke-width="1"/>
<line x1="324.5" y1="382.5" x2="497" y2="382.5" stroke="#8a8a8a" stroke-width="1"/>
<line x1="321.7" y1="376.5" x2="324" y2="376.5" stroke="#444" stroke-width="0.9"/>
<text transform="translate(319.8,379.5) scale(1,1.14)" font-size="8.4" fill="#222" stroke="#222" stroke-width="0.16" font-family="Liberation Sans, sans-serif" text-anchor="end">0</text>
<line x1="321.7" y1="349.5" x2="324" y2="349.5" stroke="#444" stroke-width="0.9"/>
<text transform="translate(319.8,352.13) scale(1,1.14)" font-size="8.4" fill="#222" stroke="#222" stroke-width="0.16" font-family="Liberation Sans, sans-serif" text-anchor="end">5</text>
<line x1="321.7" y1="321.5" x2="324" y2="321.5" stroke="#444" stroke-width="0.9"/>
<text transform="translate(319.8,324.76) scale(1,1.14)" font-size="8.4" fill="#222" stroke="#222" stroke-width="0.16" font-family="Liberation Sans, sans-serif" text-anchor="end">10</text>
<line x1="321.7" y1="294.5" x2="324" y2="294.5" stroke="#444" stroke-width="0.9"/>
<text transform="translate(319.8,297.39) scale(1,1.14)" font-size="8.4" fill="#222" stroke="#222" stroke-width="0.16" font-family="Liberation Sans, sans-serif" text-anchor="end">15</text>
<line x1="329.5" y1="383" x2="329.5" y2="385" stroke="#555" stroke-width="0.8"/>
<line x1="339.5" y1="383" x2="339.5" y2="385" stroke="#555" stroke-width="0.8"/>
<line x1="348.5" y1="383" x2="348.5" y2="385" stroke="#555" stroke-width="0.8"/>
<line x1="358.5" y1="383" x2="358.5" y2="385" stroke="#555" stroke-width="0.8"/>
<line x1="367.5" y1="383" x2="367.5" y2="385" stroke="#555" stroke-width="0.8"/>
<line x1="377.5" y1="383" x2="377.5" y2="385" stroke="#555" stroke-width="0.8"/>
<line x1="386.5" y1="383" x2="386.5" y2="385" stroke="#555" stroke-width="0.8"/>
<line x1="396.5" y1="383" x2="396.5" y2="385" stroke="#555" stroke-width="0.8"/>
<line x1="405.5" y1="383" x2="405.5" y2="385" stroke="#555" stroke-width="0.8"/>
<line x1="415.5" y1="383" x2="415.5" y2="385" stroke="#555" stroke-width="0.8"/>
<line x1="424.5" y1="383" x2="424.5" y2="385" stroke="#555" stroke-width="0.8"/>
<line x1="434.5" y1="383" x2="434.5" y2="385" stroke="#555" stroke-width="0.8"/>
<line x1="443.5" y1="383" x2="443.5" y2="385" stroke="#555" stroke-width="0.8"/>
<line x1="453.5" y1="383" x2="453.5" y2="385" stroke="#555" stroke-width="0.8"/>
<line x1="462.5" y1="383" x2="462.5" y2="385" stroke="#555" stroke-width="0.8"/>
<line x1="472.5" y1="383" x2="472.5" y2="385" stroke="#555" stroke-width="0.8"/>
<line x1="481.5" y1="383" x2="481.5" y2="385" stroke="#555" stroke-width="0.8"/>
<line x1="491.5" y1="383" x2="491.5" y2="385" stroke="#555" stroke-width="0.8"/>
<text transform="translate(301.6,325.6) rotate(-90)" font-size="9.7" fill="#222" stroke="#222" stroke-width="0.16" font-family="Liberation Sans, sans-serif" text-anchor="middle">Luc activity (fold)</text>
<polygon points="427.91,302.2 428.44,303.52 429.86,303.62 428.77,304.53 429.12,305.91 427.91,305.15 426.71,305.91 427.06,304.53 425.97,303.62 427.39,303.52" fill="#1a1a1a"/>
<polygon points="432.06,302.2 432.59,303.52 434.01,303.62 432.92,304.53 433.27,305.91 432.06,305.15 430.86,305.91 431.21,304.53 430.12,303.62 431.54,303.52" fill="#1a1a1a"/>
<polygon points="436.21,302.2 436.74,303.52 438.16,303.62 437.07,304.53 437.42,305.91 436.21,305.15 435.01,305.91 435.36,304.53 434.27,303.62 435.69,303.52" fill="#1a1a1a"/>
<polygon points="440.37,302.2 440.89,303.52 442.31,303.62 441.22,304.53 441.57,305.91 440.37,305.15 439.16,305.91 439.51,304.53 438.42,303.62 439.84,303.52" fill="#1a1a1a"/>
<polygon points="465.88,302.2 466.4,303.52 467.82,303.62 466.73,304.53 467.08,305.91 465.88,305.15 464.67,305.91 465.02,304.53 463.93,303.62 465.35,303.52" fill="#1a1a1a"/>
<polygon points="470.03,302.2 470.55,303.52 471.97,303.62 470.88,304.53 471.23,305.91 470.03,305.15 468.82,305.91 469.17,304.53 468.08,303.62 469.5,303.52" fill="#1a1a1a"/>
<polygon points="474.18,302.2 474.7,303.52 476.12,303.62 475.03,304.53 475.38,305.91 474.18,305.15 472.97,305.91 473.32,304.53 472.23,303.62 473.65,303.52" fill="#1a1a1a"/>
<polygon points="478.33,302.2 478.85,303.52 480.27,303.62 479.18,304.53 479.53,305.91 478.33,305.15 477.12,305.91 477.47,304.53 476.38,303.62 477.8,303.52" fill="#1a1a1a"/>
<text transform="translate(331.65,390.8) rotate(-45)" font-size="7.7" fill="#222" stroke="#222" stroke-width="0.06" font-family="Liberation Sans, sans-serif" text-anchor="end">Empty</text>
<text transform="translate(341.14,390.8) rotate(-45)" font-size="7.7" fill="#222" stroke="#222" stroke-width="0.06" font-family="Liberation Sans, sans-serif" text-anchor="end">ATAC–1</text>
<text transform="translate(350.63,390.8) rotate(-45)" font-size="7.7" fill="#222" stroke="#222" stroke-width="0.06" font-family="Liberation Sans, sans-serif" text-anchor="end">ATAC–2</text>
<text transform="translate(360.12,390.8) rotate(-45)" font-size="7.7" fill="#ee1c24" stroke="#ee1c24" stroke-width="0.06" font-family="Liberation Sans, sans-serif" text-anchor="end">ATAC–3/4</text>
<text transform="translate(369.61,390.8) rotate(-45)" font-size="7.7" fill="#222" stroke="#222" stroke-width="0.06" font-family="Liberation Sans, sans-serif" text-anchor="end">ATAC–5</text>
<text transform="translate(379.1,390.8) rotate(-45)" font-size="7.7" fill="#222" stroke="#222" stroke-width="0.06" font-family="Liberation Sans, sans-serif" text-anchor="end">ATAC–6</text>
<text transform="translate(388.59,390.8) rotate(-45)" font-size="7.7" fill="#222" stroke="#222" stroke-width="0.06" font-family="Liberation Sans, sans-serif" text-anchor="end">ATAC–7</text>
<text transform="translate(398.08,390.8) rotate(-45)" font-size="7.7" fill="#222" stroke="#222" stroke-width="0.06" font-family="Liberation Sans, sans-serif" text-anchor="end">ATAC–8</text>
<text transform="translate(407.57,390.8) rotate(-45)" font-size="7.7" fill="#222" stroke="#222" stroke-width="0.06" font-family="Liberation Sans, sans-serif" text-anchor="end">ATAC–9</text>
<text transform="translate(417.06,390.8) rotate(-45)" font-size="7.7" fill="#222" stroke="#222" stroke-width="0.06" font-family="Liberation Sans, sans-serif" text-anchor="end">ATAC–10</text>
<text transform="translate(426.55,390.8) rotate(-45)" font-size="7.7" fill="#ee1c24" stroke="#ee1c24" stroke-width="0.06" font-family="Liberation Sans, sans-serif" text-anchor="end">ATAC–11</text>
<text transform="translate(436.04,390.8) rotate(-45)" font-size="7.7" fill="#ee1c24" stroke="#ee1c24" stroke-width="0.06" font-family="Liberation Sans, sans-serif" text-anchor="end">ATAC–12</text>
<text transform="translate(445.53,390.8) rotate(-45)" font-size="7.7" fill="#222" stroke="#222" stroke-width="0.06" font-family="Liberation Sans, sans-serif" text-anchor="end">ATAC–13/4</text>
<text transform="translate(455.02,390.8) rotate(-45)" font-size="7.7" fill="#222" stroke="#222" stroke-width="0.06" font-family="Liberation Sans, sans-serif" text-anchor="end">ATAC–15</text>
<text transform="translate(464.51,390.8) rotate(-45)" font-size="7.7" fill="#222" stroke="#222" stroke-width="0.06" font-family="Liberation Sans, sans-serif" text-anchor="end">ATAC–16</text>
<text transform="translate(474,390.8) rotate(-45)" font-size="7.7" fill="#ee1c24" stroke="#ee1c24" stroke-width="0.06" font-family="Liberation Sans, sans-serif" text-anchor="end">ATAC–17</text>
<text transform="translate(483.49,390.8) rotate(-45)" font-size="7.7" fill="#222" stroke="#222" stroke-width="0.06" font-family="Liberation Sans, sans-serif" text-anchor="end">ATAC–18</text>
<text transform="translate(492.98,390.8) rotate(-45)" font-size="7.7" fill="#222" stroke="#222" stroke-width="0.06" font-family="Liberation Sans, sans-serif" text-anchor="end">ATAC–19</text>
<text x="598.2" y="8.8" font-size="9.8" fill="#222" stroke="#222" stroke-width="0" font-family="Liberation Sans, sans-serif" font-weight="bold" text-anchor="middle">HTR8</text>
<line x1="546.5" y1="11" x2="546.5" y2="17" stroke="#ee1c24" stroke-width="1"/>
<path d="M544.8,15.4 L548.2,15.4 L546.5,18.9 Z" fill="#ee1c24"/>
<line x1="612.5" y1="11" x2="612.5" y2="17" stroke="#ee1c24" stroke-width="1"/>
<path d="M610.8,15.4 L614.2,15.4 L612.5,18.9 Z" fill="#ee1c24"/>
<line x1="622.5" y1="11" x2="622.5" y2="17" stroke="#ee1c24" stroke-width="1"/>
<path d="M620.8,15.4 L624.2,15.4 L622.5,18.9 Z" fill="#ee1c24"/>
<line x1="660.5" y1="11" x2="660.5" y2="17" stroke="#ee1c24" stroke-width="1"/>
<path d="M658.8,15.4 L662.2,15.4 L660.5,18.9 Z" fill="#ee1c24"/>
<rect x="514.1" y="116.54" width="7.3" height="5.16" fill="#4fb8c9"/>
<circle cx="517.75" cy="116.95" r="1.25" fill="none" stroke="#111" stroke-width="0.95"/>
<circle cx="517.75" cy="116.95" r="1.25" fill="none" stroke="#111" stroke-width="0.95"/>
<rect x="523.59" y="116.54" width="7.3" height="5.16" fill="#4fb8c9"/>
<circle cx="527.24" cy="117.76" r="1.25" fill="none" stroke="#111" stroke-width="0.95"/>
<circle cx="527.24" cy="116.14" r="1.25" fill="none" stroke="#111" stroke-width="0.95"/>
<circle cx="527.24" cy="114.52" r="1.25" fill="none" stroke="#111" stroke-width="0.95"/>
<rect x="533.08" y="119.58" width="7.3" height="2.12" fill="#4fb8c9"/>
<circle cx="536.73" cy="119.78" r="1.25" fill="none" stroke="#111" stroke-width="0.95"/>
<circle cx="536.73" cy="119.78" r="1.25" fill="none" stroke="#111" stroke-width="0.95"/>
<rect x="542.57" y="116.54" width="7.3" height="5.16" fill="#4fb8c9"/>
<circle cx="546.22" cy="118.57" r="1.25" fill="none" stroke="#111" stroke-width="0.95"/>
<circle cx="546.22" cy="117.35" r="1.25" fill="none" stroke="#111" stroke-width="0.95"/>
<circle cx="546.22" cy="113.71" r="1.25" fill="none" stroke="#111" stroke-width="0.95"/>
<rect x="552.06" y="115.53" width="7.3" height="6.17" fill="#4fb8c9"/>
<circle cx="555.71" cy="116.54" r="1.25" fill="none" stroke="#111" stroke-width="0.95"/>
<circle cx="555.71" cy="115.33" r="1.25" fill="none" stroke="#111" stroke-width="0.95"/>
<circle cx="555.71" cy="113.3" r="1.25" fill="none" stroke="#111" stroke-width="0.95"/>
<rect x="561.55" y="116.54" width="7.3" height="5.16" fill="#4fb8c9"/>
<circle cx="565.2" cy="118.57" r="1.25" fill="none" stroke="#111" stroke-width="0.95"/>
<circle cx="565.2" cy="116.54" r="1.25" fill="none" stroke="#111" stroke-width="0.95"/>
<circle cx="565.2" cy="114.52" r="1.25" fill="none" stroke="#111" stroke-width="0.95"/>
<rect x="571.04" y="116.95" width="7.3" height="4.75" fill="#4fb8c9"/>
<circle cx="574.69" cy="116.95" r="1.25" fill="none" stroke="#111" stroke-width="0.95"/>
<circle cx="574.69" cy="115.33" r="1.25" fill="none" stroke="#111" stroke-width="0.95"/>
<rect x="580.53" y="119.58" width="7.3" height="2.12" fill="#4fb8c9"/>
<circle cx="584.18" cy="119.78" r="1.25" fill="none" stroke="#111" stroke-width="0.95"/>
<rect x="590.02" y="111.28" width="7.3" height="10.43" fill="#4fb8c9"/>
<circle cx="593.67" cy="113.91" r="1.25" fill="none" stroke="#111" stroke-width="0.95"/>
<circle cx="593.67" cy="111.68" r="1.25" fill="none" stroke="#111" stroke-width="0.95"/>
<circle cx="593.67" cy="109.25" r="1.25" fill="none" stroke="#111" stroke-width="0.95"/>
<rect x="599.51" y="116.74" width="7.3" height="4.96" fill="#4fb8c9"/>
<circle cx="603.16" cy="118.97" r="1.25" fill="none" stroke="#111" stroke-width="0.95"/>
<circle cx="603.16" cy="117.76" r="1.25" fill="none" stroke="#111" stroke-width="0.95"/>
<circle cx="603.16" cy="114.52" r="1.25" fill="none" stroke="#111" stroke-width="0.95"/>
<rect x="609" y="115.12" width="7.3" height="6.58" fill="#4fb8c9"/>
<circle cx="612.65" cy="118.97" r="1.25" fill="none" stroke="#111" stroke-width="0.95"/>
<circle cx="612.65" cy="115.33" r="1.25" fill="none" stroke="#111" stroke-width="0.95"/>
<circle cx="612.65" cy="112.29" r="1.25" fill="none" stroke="#111" stroke-width="0.95"/>
<rect x="618.49" y="116.74" width="7.3" height="4.96" fill="#4fb8c9"/>
<circle cx="622.14" cy="117.35" r="1.25" fill="none" stroke="#111" stroke-width="0.95"/>
<circle cx="622.14" cy="115.33" r="1.25" fill="none" stroke="#111" stroke-width="0.95"/>
<rect x="627.98" y="116.74" width="7.3" height="4.96" fill="#4fb8c9"/>
<line x1="631.5" y1="116.74" x2="631.5" y2="113.3" stroke="#333" stroke-width="0.75"/>
<circle cx="631.63" cy="119.17" r="1.25" fill="none" stroke="#111" stroke-width="0.95"/>
<circle cx="631.63" cy="113.3" r="1.25" fill="none" stroke="#111" stroke-width="0.95"/>
<rect x="637.47" y="118.16" width="7.3" height="3.54" fill="#4fb8c9"/>
<circle cx="641.12" cy="118.97" r="1.25" fill="none" stroke="#111" stroke-width="0.95"/>
<circle cx="641.12" cy="116.14" r="1.25" fill="none" stroke="#111" stroke-width="0.95"/>
<rect x="646.96" y="116.74" width="7.3" height="4.96" fill="#4fb8c9"/>
<circle cx="650.61" cy="116.95" r="1.25" fill="none" stroke="#111" stroke-width="0.95"/>
<rect x="656.45" y="116.74" width="7.3" height="4.96" fill="#4fb8c9"/>
<circle cx="660.1" cy="117.76" r="1.25" fill="none" stroke="#111" stroke-width="0.95"/>
<circle cx="660.1" cy="116.14" r="1.25" fill="none" stroke="#111" stroke-width="0.95"/>
<rect x="665.94" y="118.16" width="7.3" height="3.54" fill="#4fb8c9"/>
<circle cx="669.59" cy="118.57" r="1.25" fill="none" stroke="#111" stroke-width="0.95"/>
<rect x="675.43" y="116.74" width="7.3" height="4.96" fill="#4fb8c9"/>
<circle cx="679.08" cy="117.35" r="1.25" fill="none" stroke="#111" stroke-width="0.95"/>
<circle cx="679.08" cy="115.33" r="1.25" fill="none" stroke="#111" stroke-width="0.95"/>
<line x1="512.5" y1="21.3" x2="512.5" y2="127" stroke="#8a8a8a" stroke-width="1"/>
<line x1="512.5" y1="126.5" x2="685" y2="126.5" stroke="#8a8a8a" stroke-width="1"/>
<line x1="509.7" y1="121.5" x2="512" y2="121.5" stroke="#444" stroke-width="0.9"/>
<text transform="translate(507.8,124.2) scale(1,1.14)" font-size="8.4" fill="#222" stroke="#222" stroke-width="0.16" font-family="Liberation Sans, sans-serif" text-anchor="end">0</text>
<line x1="509.7" y1="101.5" x2="512" y2="101.5" stroke="#444" stroke-width="0.9"/>
<text transform="translate(507.8,103.95) scale(1,1.14)" font-size="8.4" fill="#222" stroke="#222" stroke-width="0.16" font-family="Liberation Sans, sans-serif" text-anchor="end">5</text>
<line x1="509.7" y1="80.5" x2="512" y2="80.5" stroke="#444" stroke-width="0.9"/>
<text transform="translate(507.8,83.7) scale(1,1.14)" font-size="8.4" fill="#222" stroke="#222" stroke-width="0.16" font-family="Liberation Sans, sans-serif" text-anchor="end">10</text>
<line x1="509.7" y1="60.5" x2="512" y2="60.5" stroke="#444" stroke-width="0.9"/>
<text transform="translate(507.8,63.45) scale(1,1.14)" font-size="8.4" fill="#222" stroke="#222" stroke-width="0.16" font-family="Liberation Sans, sans-serif" text-anchor="end">15</text>
<line x1="509.7" y1="40.5" x2="512" y2="40.5" stroke="#444" stroke-width="0.9"/>
<text transform="translate(507.8,43.2) scale(1,1.14)" font-size="8.4" fill="#222" stroke="#222" stroke-width="0.16" font-family="Liberation Sans, sans-serif" text-anchor="end">20</text>
<line x1="517.5" y1="127" x2="517.5" y2="129" stroke="#555" stroke-width="0.8"/>
<line x1="527.5" y1="127" x2="527.5" y2="129" stroke="#555" stroke-width="0.8"/>
<line x1="536.5" y1="127" x2="536.5" y2="129" stroke="#555" stroke-width="0.8"/>
<line x1="546.5" y1="127" x2="546.5" y2="129" stroke="#555" stroke-width="0.8"/>
<line x1="555.5" y1="127" x2="555.5" y2="129" stroke="#555" stroke-width="0.8"/>
<line x1="565.5" y1="127" x2="565.5" y2="129" stroke="#555" stroke-width="0.8"/>
<line x1="574.5" y1="127" x2="574.5" y2="129" stroke="#555" stroke-width="0.8"/>
<line x1="584.5" y1="127" x2="584.5" y2="129" stroke="#555" stroke-width="0.8"/>
<line x1="593.5" y1="127" x2="593.5" y2="129" stroke="#555" stroke-width="0.8"/>
<line x1="603.5" y1="127" x2="603.5" y2="129" stroke="#555" stroke-width="0.8"/>
<line x1="612.5" y1="127" x2="612.5" y2="129" stroke="#555" stroke-width="0.8"/>
<line x1="622.5" y1="127" x2="622.5" y2="129" stroke="#555" stroke-width="0.8"/>
<line x1="631.5" y1="127" x2="631.5" y2="129" stroke="#555" stroke-width="0.8"/>
<line x1="641.5" y1="127" x2="641.5" y2="129" stroke="#555" stroke-width="0.8"/>
<line x1="650.5" y1="127" x2="650.5" y2="129" stroke="#555" stroke-width="0.8"/>
<line x1="660.5" y1="127" x2="660.5" y2="129" stroke="#555" stroke-width="0.8"/>
<line x1="669.5" y1="127" x2="669.5" y2="129" stroke="#555" stroke-width="0.8"/>
<line x1="679.5" y1="127" x2="679.5" y2="129" stroke="#555" stroke-width="0.8"/>
<text x="598.3" y="143.2" font-size="9.8" fill="#222" stroke="#222" stroke-width="0" font-family="Liberation Sans, sans-serif" font-weight="bold" text-anchor="middle">293T</text>
<line x1="546.5" y1="147.2" x2="546.5" y2="153.2" stroke="#ee1c24" stroke-width="1"/>
<path d="M544.8,151.6 L548.2,151.6 L546.5,155.1 Z" fill="#ee1c24"/>
<line x1="612.5" y1="147.2" x2="612.5" y2="153.2" stroke="#ee1c24" stroke-width="1"/>
<path d="M610.8,151.6 L614.2,151.6 L612.5,155.1 Z" fill="#ee1c24"/>
<line x1="622.5" y1="147.2" x2="622.5" y2="153.2" stroke="#ee1c24" stroke-width="1"/>
<path d="M620.8,151.6 L624.2,151.6 L622.5,155.1 Z" fill="#ee1c24"/>
<line x1="660.5" y1="147.2" x2="660.5" y2="153.2" stroke="#ee1c24" stroke-width="1"/>
<path d="M658.8,151.6 L662.2,151.6 L660.5,155.1 Z" fill="#ee1c24"/>
<rect x="514.2" y="244.43" width="7.3" height="5.17" fill="#4fb8c9"/>
<circle cx="517.85" cy="244.83" r="1.25" fill="none" stroke="#111" stroke-width="0.95"/>
<rect x="523.69" y="242.8" width="7.3" height="6.8" fill="#4fb8c9"/>
<circle cx="527.34" cy="243.62" r="1.25" fill="none" stroke="#111" stroke-width="0.95"/>
<circle cx="527.34" cy="242.4" r="1.25" fill="none" stroke="#111" stroke-width="0.95"/>
<rect x="533.18" y="247.47" width="7.3" height="2.13" fill="#4fb8c9"/>
<circle cx="536.83" cy="247.68" r="1.25" fill="none" stroke="#111" stroke-width="0.95"/>
<rect x="542.67" y="245.44" width="7.3" height="4.16" fill="#4fb8c9"/>
<circle cx="546.32" cy="245.65" r="1.25" fill="none" stroke="#111" stroke-width="0.95"/>
<rect x="552.16" y="245.44" width="7.3" height="4.16" fill="#4fb8c9"/>
<circle cx="555.81" cy="245.65" r="1.25" fill="none" stroke="#111" stroke-width="0.95"/>
<rect x="561.65" y="245.44" width="7.3" height="4.16" fill="#4fb8c9"/>
<circle cx="565.3" cy="246.46" r="1.25" fill="none" stroke="#111" stroke-width="0.95"/>
<circle cx="565.3" cy="244.83" r="1.25" fill="none" stroke="#111" stroke-width="0.95"/>
<rect x="571.14" y="245.04" width="7.3" height="4.56" fill="#4fb8c9"/>
<circle cx="574.79" cy="245.24" r="1.25" fill="none" stroke="#111" stroke-width="0.95"/>
<rect x="580.63" y="247.47" width="7.3" height="2.13" fill="#4fb8c9"/>
<circle cx="584.28" cy="247.68" r="1.25" fill="none" stroke="#111" stroke-width="0.95"/>
<rect x="590.12" y="245.44" width="7.3" height="4.16" fill="#4fb8c9"/>
<circle cx="593.77" cy="246.05" r="1.25" fill="none" stroke="#111" stroke-width="0.95"/>
<circle cx="593.77" cy="244.02" r="1.25" fill="none" stroke="#111" stroke-width="0.95"/>
<rect x="599.61" y="246.05" width="7.3" height="3.55" fill="#4fb8c9"/>
<circle cx="603.26" cy="246.46" r="1.25" fill="none" stroke="#111" stroke-width="0.95"/>
<rect x="609.1" y="242.4" width="7.3" height="7.2" fill="#4fb8c9"/>
<circle cx="612.75" cy="243.21" r="1.25" fill="none" stroke="#111" stroke-width="0.95"/>
<circle cx="612.75" cy="241.18" r="1.25" fill="none" stroke="#111" stroke-width="0.95"/>
<rect x="618.59" y="245.24" width="7.3" height="4.36" fill="#4fb8c9"/>
<circle cx="622.24" cy="246.05" r="1.25" fill="none" stroke="#111" stroke-width="0.95"/>
<rect x="628.08" y="245.24" width="7.3" height="4.36" fill="#4fb8c9"/>
<circle cx="631.73" cy="245.65" r="1.25" fill="none" stroke="#111" stroke-width="0.95"/>
<rect x="637.57" y="245.44" width="7.3" height="4.16" fill="#4fb8c9"/>
<circle cx="641.22" cy="246.46" r="1.25" fill="none" stroke="#111" stroke-width="0.95"/>
<rect x="647.06" y="244.23" width="7.3" height="5.37" fill="#4fb8c9"/>
<circle cx="650.71" cy="244.02" r="1.25" fill="none" stroke="#111" stroke-width="0.95"/>
<rect x="656.55" y="243.41" width="7.3" height="6.19" fill="#4fb8c9"/>
<circle cx="660.2" cy="244.43" r="1.25" fill="none" stroke="#111" stroke-width="0.95"/>
<circle cx="660.2" cy="242.8" r="1.25" fill="none" stroke="#111" stroke-width="0.95"/>
<circle cx="660.2" cy="241.18" r="1.25" fill="none" stroke="#111" stroke-width="0.95"/>
<rect x="666.04" y="240.77" width="7.3" height="8.83" fill="#4fb8c9"/>
<circle cx="669.69" cy="242.4" r="1.25" fill="none" stroke="#111" stroke-width="0.95"/>
<circle cx="669.69" cy="239.56" r="1.25" fill="none" stroke="#111" stroke-width="0.95"/>
<circle cx="669.69" cy="237.93" r="1.25" fill="none" stroke="#111" stroke-width="0.95"/>
<rect x="675.53" y="240.37" width="7.3" height="9.23" fill="#4fb8c9"/>
<circle cx="679.18" cy="241.59" r="1.25" fill="none" stroke="#111" stroke-width="0.95"/>
<circle cx="679.18" cy="240.37" r="1.25" fill="none" stroke="#111" stroke-width="0.95"/>
<circle cx="679.18" cy="237.93" r="1.25" fill="none" stroke="#111" stroke-width="0.95"/>
<line x1="512.5" y1="149.4" x2="512.5" y2="255" stroke="#8a8a8a" stroke-width="1"/>
<line x1="512.5" y1="254.5" x2="685.1" y2="254.5" stroke="#8a8a8a" stroke-width="1"/>
<line x1="509.7" y1="249.5" x2="512" y2="249.5" stroke="#444" stroke-width="0.9"/>
<text transform="translate(507.9,252.1) scale(1,1.14)" font-size="8.4" fill="#222" stroke="#222" stroke-width="0.16" font-family="Liberation Sans, sans-serif" text-anchor="end">0</text>
<line x1="509.7" y1="229.5" x2="512" y2="229.5" stroke="#444" stroke-width="0.9"/>
<text transform="translate(507.9,231.8) scale(1,1.14)" font-size="8.4" fill="#222" stroke="#222" stroke-width="0.16" font-family="Liberation Sans, sans-serif" text-anchor="end">5</text>
<line x1="509.7" y1="208.5" x2="512" y2="208.5" stroke="#444" stroke-width="0.9"/>
<text transform="translate(507.9,211.5) scale(1,1.14)" font-size="8.4" fill="#222" stroke="#222" stroke-width="0.16" font-family="Liberation Sans, sans-serif" text-anchor="end">10</text>
<line x1="509.7" y1="188.5" x2="512" y2="188.5" stroke="#444" stroke-width="0.9"/>
<text transform="translate(507.9,191.2) scale(1,1.14)" font-size="8.4" fill="#222" stroke="#222" stroke-width="0.16" font-family="Liberation Sans, sans-serif" text-anchor="end">15</text>
<line x1="509.7" y1="168.5" x2="512" y2="168.5" stroke="#444" stroke-width="0.9"/>
<text transform="translate(507.9,170.9) scale(1,1.14)" font-size="8.4" fill="#222" stroke="#222" stroke-width="0.16" font-family="Liberation Sans, sans-serif" text-anchor="end">20</text>
<line x1="517.5" y1="255" x2="517.5" y2="257" stroke="#555" stroke-width="0.8"/>
<line x1="527.5" y1="255" x2="527.5" y2="257" stroke="#555" stroke-width="0.8"/>
<line x1="536.5" y1="255" x2="536.5" y2="257" stroke="#555" stroke-width="0.8"/>
<line x1="546.5" y1="255" x2="546.5" y2="257" stroke="#555" stroke-width="0.8"/>
<line x1="555.5" y1="255" x2="555.5" y2="257" stroke="#555" stroke-width="0.8"/>
<line x1="565.5" y1="255" x2="565.5" y2="257" stroke="#555" stroke-width="0.8"/>
<line x1="574.5" y1="255" x2="574.5" y2="257" stroke="#555" stroke-width="0.8"/>
<line x1="584.5" y1="255" x2="584.5" y2="257" stroke="#555" stroke-width="0.8"/>
<line x1="593.5" y1="255" x2="593.5" y2="257" stroke="#555" stroke-width="0.8"/>
<line x1="603.5" y1="255" x2="603.5" y2="257" stroke="#555" stroke-width="0.8"/>
<line x1="612.5" y1="255" x2="612.5" y2="257" stroke="#555" stroke-width="0.8"/>
<line x1="622.5" y1="255" x2="622.5" y2="257" stroke="#555" stroke-width="0.8"/>
<line x1="631.5" y1="255" x2="631.5" y2="257" stroke="#555" stroke-width="0.8"/>
<line x1="641.5" y1="255" x2="641.5" y2="257" stroke="#555" stroke-width="0.8"/>
<line x1="650.5" y1="255" x2="650.5" y2="257" stroke="#555" stroke-width="0.8"/>
<line x1="660.5" y1="255" x2="660.5" y2="257" stroke="#555" stroke-width="0.8"/>
<line x1="669.5" y1="255" x2="669.5" y2="257" stroke="#555" stroke-width="0.8"/>
<line x1="679.5" y1="255" x2="679.5" y2="257" stroke="#555" stroke-width="0.8"/>
<text x="598.4" y="270.6" font-size="9.8" fill="#222" stroke="#222" stroke-width="0" font-family="Liberation Sans, sans-serif" font-weight="bold" text-anchor="middle">HeLa</text>
<line x1="546.5" y1="275.1" x2="546.5" y2="281.1" stroke="#ee1c24" stroke-width="1"/>
<path d="M544.8,279.5 L548.2,279.5 L546.5,283 Z" fill="#ee1c24"/>
<line x1="612.5" y1="275.1" x2="612.5" y2="281.1" stroke="#ee1c24" stroke-width="1"/>
<path d="M610.8,279.5 L614.2,279.5 L612.5,283 Z" fill="#ee1c24"/>
<line x1="622.5" y1="275.1" x2="622.5" y2="281.1" stroke="#ee1c24" stroke-width="1"/>
<path d="M620.8,279.5 L624.2,279.5 L622.5,283 Z" fill="#ee1c24"/>
<line x1="660.5" y1="275.1" x2="660.5" y2="281.1" stroke="#ee1c24" stroke-width="1"/>
<path d="M658.8,279.5 L662.2,279.5 L660.5,283 Z" fill="#ee1c24"/>
<rect x="514.3" y="372" width="7.3" height="5.4" fill="#4fb8c9"/>
<circle cx="517.95" cy="372.2" r="1.25" fill="none" stroke="#111" stroke-width="0.95"/>
<rect x="523.79" y="372.61" width="7.3" height="4.79" fill="#4fb8c9"/>
<circle cx="527.44" cy="373.43" r="1.25" fill="none" stroke="#111" stroke-width="0.95"/>
<circle cx="527.44" cy="371.8" r="1.25" fill="none" stroke="#111" stroke-width="0.95"/>
<rect x="533.28" y="372.61" width="7.3" height="4.79" fill="#4fb8c9"/>
<circle cx="536.93" cy="373.43" r="1.25" fill="none" stroke="#111" stroke-width="0.95"/>
<circle cx="536.93" cy="371.8" r="1.25" fill="none" stroke="#111" stroke-width="0.95"/>
<rect x="542.77" y="373.43" width="7.3" height="3.97" fill="#4fb8c9"/>
<circle cx="546.42" cy="374.65" r="1.25" fill="none" stroke="#111" stroke-width="0.95"/>
<circle cx="546.42" cy="373.02" r="1.25" fill="none" stroke="#111" stroke-width="0.95"/>
<rect x="552.26" y="374.04" width="7.3" height="3.36" fill="#4fb8c9"/>
<circle cx="555.91" cy="375.47" r="1.25" fill="none" stroke="#111" stroke-width="0.95"/>
<circle cx="555.91" cy="373.43" r="1.25" fill="none" stroke="#111" stroke-width="0.95"/>
<rect x="561.75" y="373.02" width="7.3" height="4.38" fill="#4fb8c9"/>
<circle cx="565.4" cy="373.84" r="1.25" fill="none" stroke="#111" stroke-width="0.95"/>
<circle cx="565.4" cy="371.8" r="1.25" fill="none" stroke="#111" stroke-width="0.95"/>
<rect x="571.24" y="372.61" width="7.3" height="4.79" fill="#4fb8c9"/>
<circle cx="574.89" cy="373.02" r="1.25" fill="none" stroke="#111" stroke-width="0.95"/>
<circle cx="574.89" cy="370.98" r="1.25" fill="none" stroke="#111" stroke-width="0.95"/>
<rect x="580.73" y="375.06" width="7.3" height="2.34" fill="#4fb8c9"/>
<circle cx="584.38" cy="375.47" r="1.25" fill="none" stroke="#111" stroke-width="0.95"/>
<rect x="590.22" y="367.31" width="7.3" height="10.09" fill="#4fb8c9"/>
<line x1="593.5" y1="367.31" x2="593.5" y2="364.04" stroke="#333" stroke-width="0.75"/>
<circle cx="593.87" cy="373.02" r="1.25" fill="none" stroke="#111" stroke-width="0.95"/>
<circle cx="593.87" cy="365.68" r="1.25" fill="none" stroke="#111" stroke-width="0.95"/>
<circle cx="593.87" cy="364.04" r="1.25" fill="none" stroke="#111" stroke-width="0.95"/>
<rect x="599.71" y="373.84" width="7.3" height="3.56" fill="#4fb8c9"/>
<circle cx="603.36" cy="374.24" r="1.25" fill="none" stroke="#111" stroke-width="0.95"/>
<rect x="609.2" y="369.76" width="7.3" height="7.64" fill="#4fb8c9"/>
<line x1="612.5" y1="369.76" x2="612.5" y2="364.45" stroke="#333" stroke-width="0.75"/>
<circle cx="612.85" cy="373.43" r="1.25" fill="none" stroke="#111" stroke-width="0.95"/>
<circle cx="612.85" cy="372.2" r="1.25" fill="none" stroke="#111" stroke-width="0.95"/>
<circle cx="612.85" cy="364.45" r="1.25" fill="none" stroke="#111" stroke-width="0.95"/>
<rect x="618.69" y="371.59" width="7.3" height="5.81" fill="#4fb8c9"/>
<line x1="622.5" y1="371.59" x2="622.5" y2="368.53" stroke="#333" stroke-width="0.75"/>
<circle cx="622.34" cy="374.65" r="1.25" fill="none" stroke="#111" stroke-width="0.95"/>
<circle cx="622.34" cy="372.2" r="1.25" fill="none" stroke="#111" stroke-width="0.95"/>
<circle cx="622.34" cy="368.53" r="1.25" fill="none" stroke="#111" stroke-width="0.95"/>
<rect x="628.18" y="373.43" width="7.3" height="3.97" fill="#4fb8c9"/>
<circle cx="631.83" cy="374.24" r="1.25" fill="none" stroke="#111" stroke-width="0.95"/>
<circle cx="631.83" cy="371.39" r="1.25" fill="none" stroke="#111" stroke-width="0.95"/>
<rect x="637.67" y="374.65" width="7.3" height="2.75" fill="#4fb8c9"/>
<circle cx="641.32" cy="374.65" r="1.25" fill="none" stroke="#111" stroke-width="0.95"/>
<rect x="647.16" y="375.06" width="7.3" height="2.34" fill="#4fb8c9"/>
<circle cx="650.81" cy="375.47" r="1.25" fill="none" stroke="#111" stroke-width="0.95"/>
<rect x="656.65" y="371.59" width="7.3" height="5.81" fill="#4fb8c9"/>
<circle cx="660.3" cy="372.2" r="1.25" fill="none" stroke="#111" stroke-width="0.95"/>
<circle cx="660.3" cy="368.94" r="1.25" fill="none" stroke="#111" stroke-width="0.95"/>
<rect x="666.14" y="368.12" width="7.3" height="9.28" fill="#4fb8c9"/>
<line x1="669.5" y1="368.12" x2="669.5" y2="364.86" stroke="#333" stroke-width="0.75"/>
<circle cx="669.79" cy="373.02" r="1.25" fill="none" stroke="#111" stroke-width="0.95"/>
<circle cx="669.79" cy="366.08" r="1.25" fill="none" stroke="#111" stroke-width="0.95"/>
<circle cx="669.79" cy="364.86" r="1.25" fill="none" stroke="#111" stroke-width="0.95"/>
<rect x="675.63" y="365.68" width="7.3" height="11.72" fill="#4fb8c9"/>
<line x1="679.5" y1="365.68" x2="679.5" y2="359.56" stroke="#333" stroke-width="0.75"/>
<circle cx="679.28" cy="372.2" r="1.25" fill="none" stroke="#111" stroke-width="0.95"/>
<circle cx="679.28" cy="365.68" r="1.25" fill="none" stroke="#111" stroke-width="0.95"/>
<circle cx="679.28" cy="359.56" r="1.25" fill="none" stroke="#111" stroke-width="0.95"/>
<line x1="512.5" y1="277.4" x2="512.5" y2="383" stroke="#8a8a8a" stroke-width="1"/>
<line x1="512.5" y1="382.5" x2="685.2" y2="382.5" stroke="#8a8a8a" stroke-width="1"/>
<line x1="509.7" y1="377.5" x2="512" y2="377.5" stroke="#444" stroke-width="0.9"/>
<text transform="translate(508,379.9) scale(1,1.14)" font-size="8.4" fill="#222" stroke="#222" stroke-width="0.16" font-family="Liberation Sans, sans-serif" text-anchor="end">0</text>
<line x1="509.7" y1="356.5" x2="512" y2="356.5" stroke="#444" stroke-width="0.9"/>
<text transform="translate(508,359.5) scale(1,1.14)" font-size="8.4" fill="#222" stroke="#222" stroke-width="0.16" font-family="Liberation Sans, sans-serif" text-anchor="end">5</text>
<line x1="509.7" y1="336.5" x2="512" y2="336.5" stroke="#444" stroke-width="0.9"/>
<text transform="translate(508,339.1) scale(1,1.14)" font-size="8.4" fill="#222" stroke="#222" stroke-width="0.16" font-family="Liberation Sans, sans-serif" text-anchor="end">10</text>
<line x1="509.7" y1="315.5" x2="512" y2="315.5" stroke="#444" stroke-width="0.9"/>
<text transform="translate(508,318.7) scale(1,1.14)" font-size="8.4" fill="#222" stroke="#222" stroke-width="0.16" font-family="Liberation Sans, sans-serif" text-anchor="end">15</text>
<line x1="509.7" y1="295.5" x2="512" y2="295.5" stroke="#444" stroke-width="0.9"/>
<text transform="translate(508,298.3) scale(1,1.14)" font-size="8.4" fill="#222" stroke="#222" stroke-width="0.16" font-family="Liberation Sans, sans-serif" text-anchor="end">20</text>
<line x1="517.5" y1="383" x2="517.5" y2="385" stroke="#555" stroke-width="0.8"/>
<line x1="527.5" y1="383" x2="527.5" y2="385" stroke="#555" stroke-width="0.8"/>
<line x1="536.5" y1="383" x2="536.5" y2="385" stroke="#555" stroke-width="0.8"/>
<line x1="546.5" y1="383" x2="546.5" y2="385" stroke="#555" stroke-width="0.8"/>
<line x1="555.5" y1="383" x2="555.5" y2="385" stroke="#555" stroke-width="0.8"/>
<line x1="565.5" y1="383" x2="565.5" y2="385" stroke="#555" stroke-width="0.8"/>
<line x1="574.5" y1="383" x2="574.5" y2="385" stroke="#555" stroke-width="0.8"/>
<line x1="584.5" y1="383" x2="584.5" y2="385" stroke="#555" stroke-width="0.8"/>
<line x1="593.5" y1="383" x2="593.5" y2="385" stroke="#555" stroke-width="0.8"/>
<line x1="603.5" y1="383" x2="603.5" y2="385" stroke="#555" stroke-width="0.8"/>
<line x1="612.5" y1="383" x2="612.5" y2="385" stroke="#555" stroke-width="0.8"/>
<line x1="622.5" y1="383" x2="622.5" y2="385" stroke="#555" stroke-width="0.8"/>
<line x1="631.5" y1="383" x2="631.5" y2="385" stroke="#555" stroke-width="0.8"/>
<line x1="641.5" y1="383" x2="641.5" y2="385" stroke="#555" stroke-width="0.8"/>
<line x1="650.5" y1="383" x2="650.5" y2="385" stroke="#555" stroke-width="0.8"/>
<line x1="660.5" y1="383" x2="660.5" y2="385" stroke="#555" stroke-width="0.8"/>
<line x1="669.5" y1="383" x2="669.5" y2="385" stroke="#555" stroke-width="0.8"/>
<line x1="679.5" y1="383" x2="679.5" y2="385" stroke="#555" stroke-width="0.8"/>
<text transform="translate(519.85,390.8) rotate(-45)" font-size="7.7" fill="#222" stroke="#222" stroke-width="0.06" font-family="Liberation Sans, sans-serif" text-anchor="end">Empty</text>
<text transform="translate(529.34,390.8) rotate(-45)" font-size="7.7" fill="#222" stroke="#222" stroke-width="0.06" font-family="Liberation Sans, sans-serif" text-anchor="end">ATAC–1</text>
<text transform="translate(538.83,390.8) rotate(-45)" font-size="7.7" fill="#222" stroke="#222" stroke-width="0.06" font-family="Liberation Sans, sans-serif" text-anchor="end">ATAC–2</text>
<text transform="translate(548.32,390.8) rotate(-45)" font-size="7.7" fill="#ee1c24" stroke="#ee1c24" stroke-width="0.06" font-family="Liberation Sans, sans-serif" text-anchor="end">ATAC–3/4</text>
<text transform="translate(557.81,390.8) rotate(-45)" font-size="7.7" fill="#222" stroke="#222" stroke-width="0.06" font-family="Liberation Sans, sans-serif" text-anchor="end">ATAC–5</text>
<text transform="translate(567.3,390.8) rotate(-45)" font-size="7.7" fill="#222" stroke="#222" stroke-width="0.06" font-family="Liberation Sans, sans-serif" text-anchor="end">ATAC–6</text>
<text transform="translate(576.79,390.8) rotate(-45)" font-size="7.7" fill="#222" stroke="#222" stroke-width="0.06" font-family="Liberation Sans, sans-serif" text-anchor="end">ATAC–7</text>
<text transform="translate(586.28,390.8) rotate(-45)" font-size="7.7" fill="#222" stroke="#222" stroke-width="0.06" font-family="Liberation Sans, sans-serif" text-anchor="end">ATAC–8</text>
<text transform="translate(595.77,390.8) rotate(-45)" font-size="7.7" fill="#222" stroke="#222" stroke-width="0.06" font-family="Liberation Sans, sans-serif" text-anchor="end">ATAC–9</text>
<text transform="translate(605.26,390.8) rotate(-45)" font-size="7.7" fill="#222" stroke="#222" stroke-width="0.06" font-family="Liberation Sans, sans-serif" text-anchor="end">ATAC–10</text>
<text transform="translate(614.75,390.8) rotate(-45)" font-size="7.7" fill="#ee1c24" stroke="#ee1c24" stroke-width="0.06" font-family="Liberation Sans, sans-serif" text-anchor="end">ATAC–11</text>
<text transform="translate(624.24,390.8) rotate(-45)" font-size="7.7" fill="#ee1c24" stroke="#ee1c24" stroke-width="0.06" font-family="Liberation Sans, sans-serif" text-anchor="end">ATAC–12</text>
<text transform="translate(633.73,390.8) rotate(-45)" font-size="7.7" fill="#222" stroke="#222" stroke-width="0.06" font-family="Liberation Sans, sans-serif" text-anchor="end">ATAC–13/4</text>
<text transform="translate(643.22,390.8) rotate(-45)" font-size="7.7" fill="#222" stroke="#222" stroke-width="0.06" font-family="Liberation Sans, sans-serif" text-anchor="end">ATAC–15</text>
<text transform="translate(652.71,390.8) rotate(-45)" font-size="7.7" fill="#222" stroke="#222" stroke-width="0.06" font-family="Liberation Sans, sans-serif" text-anchor="end">ATAC–16</text>
<text transform="translate(662.2,390.8) rotate(-45)" font-size="7.7" fill="#ee1c24" stroke="#ee1c24" stroke-width="0.06" font-family="Liberation Sans, sans-serif" text-anchor="end">ATAC–17</text>
<text transform="translate(671.69,390.8) rotate(-45)" font-size="7.7" fill="#222" stroke="#222" stroke-width="0.06" font-family="Liberation Sans, sans-serif" text-anchor="end">ATAC–18</text>
<text transform="translate(681.18,390.8) rotate(-45)" font-size="7.7" fill="#222" stroke="#222" stroke-width="0.06" font-family="Liberation Sans, sans-serif" text-anchor="end">ATAC–19</text>
</svg></body></html>
